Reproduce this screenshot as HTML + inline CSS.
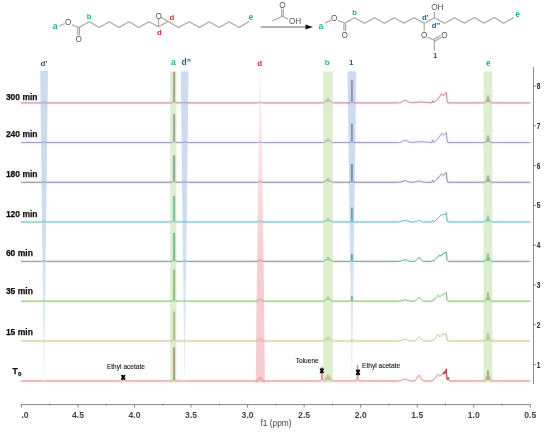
<!DOCTYPE html>
<html><head><meta charset="utf-8"><style>
html,body{margin:0;padding:0;background:#fff;}
body{width:550px;height:432px;overflow:hidden;}
svg{display:block;font-family:"Liberation Sans",sans-serif;will-change:transform;}
</style></head><body>
<svg width="550" height="432" viewBox="0 0 550 432">

<defs><filter id="fbl" x="-2%" y="-10%" width="104%" height="120%"><feGaussianBlur in="SourceGraphic" stdDeviation="0.8" result="b"/><feComponentTransfer in="b" result="b2"><feFuncA type="linear" slope="0.5"/></feComponentTransfer><feMerge><feMergeNode in="b2"/><feMergeNode in="SourceGraphic"/></feMerge></filter></defs>
<g filter="url(#fbl)" fill="none" stroke-width="0.9" stroke-linejoin="round">
<path d="M21.00 381.00 L22.00 381.00 L23.00 381.00 L24.00 381.00 L25.00 381.00 L26.00 381.00 L27.00 381.00 L28.00 381.00 L29.00 381.00 L30.00 381.00 L31.00 381.00 L32.00 381.00 L33.00 381.00 L34.00 381.00 L35.00 381.00 L36.00 381.00 L37.00 381.00 L38.00 381.00 L39.00 381.00 L40.00 381.00 L41.00 381.00 L41.33 381.00 L41.67 381.00 L42.00 381.00 L42.33 381.00 L42.67 381.00 L43.00 381.00 L43.33 381.00 L43.67 381.00 L44.00 381.00 L44.33 381.00 L44.67 381.00 L45.00 381.00 L45.33 381.00 L45.67 381.00 L46.00 381.00 L46.33 381.00 L46.67 381.00 L47.00 381.00 L48.00 381.00 L49.00 381.00 L50.00 381.00 L51.00 381.00 L52.00 381.00 L53.00 381.00 L54.00 381.00 L55.00 381.00 L56.00 381.00 L57.00 381.00 L58.00 381.00 L59.00 381.00 L60.00 381.00 L61.00 381.00 L62.00 381.00 L63.00 381.00 L64.00 381.00 L65.00 381.00 L66.00 381.00 L67.00 381.00 L68.00 381.00 L69.00 381.00 L70.00 381.00 L71.00 381.00 L72.00 381.00 L73.00 381.00 L74.00 381.00 L75.00 381.00 L76.00 381.00 L77.00 381.00 L78.00 381.00 L79.00 381.00 L80.00 381.00 L81.00 381.00 L82.00 381.00 L83.00 381.00 L84.00 381.00 L85.00 381.00 L86.00 381.00 L87.00 381.00 L88.00 381.00 L89.00 381.00 L90.00 381.00 L91.00 381.00 L92.00 381.00 L93.00 381.00 L94.00 381.00 L95.00 381.00 L96.00 381.00 L97.00 381.00 L98.00 381.00 L99.00 381.00 L100.00 381.00 L101.00 381.00 L102.00 381.00 L103.00 381.00 L104.00 381.00 L105.00 381.00 L106.00 381.00 L107.00 381.00 L108.00 381.00 L109.00 381.00 L110.00 381.00 L111.00 381.00 L112.00 381.00 L113.00 381.00 L114.00 380.99 L115.00 380.99 L116.00 380.99 L117.00 380.98 L118.00 380.98 L119.00 380.96 L119.10 380.95 L119.20 380.95 L119.30 380.94 L119.40 380.94 L119.50 380.93 L119.60 380.93 L119.70 380.92 L119.80 380.91 L119.90 380.90 L120.00 380.89 L120.10 380.88 L120.20 380.86 L120.30 380.84 L120.40 380.81 L120.50 380.78 L120.60 380.74 L120.70 380.69 L120.80 380.62 L120.90 380.52 L121.00 380.40 L121.10 380.23 L121.20 380.02 L121.30 379.78 L121.40 379.56 L121.50 379.47 L121.60 379.56 L121.70 379.77 L121.80 380.01 L121.90 380.21 L122.00 380.38 L122.10 380.50 L122.20 380.58 L122.30 380.65 L122.40 380.69 L122.50 380.73 L122.60 380.75 L122.70 380.76 L122.80 380.77 L122.90 380.77 L123.00 380.76 L123.10 380.75 L123.20 380.72 L123.30 380.68 L123.40 380.63 L123.50 380.55 L123.60 380.45 L123.70 380.31 L123.80 380.16 L123.90 380.02 L124.00 379.96 L124.10 380.02 L124.20 380.17 L124.30 380.33 L124.40 380.47 L124.50 380.58 L124.60 380.67 L124.70 380.73 L124.80 380.78 L124.90 380.81 L125.00 380.84 L125.10 380.86 L125.20 380.88 L125.30 380.90 L125.40 380.91 L125.50 380.92 L125.60 380.93 L125.70 380.93 L125.80 380.94 L125.90 380.95 L126.00 380.95 L126.10 380.95 L126.20 380.96 L126.30 380.96 L126.40 380.96 L127.00 380.97 L128.00 380.98 L129.00 380.99 L130.00 380.99 L131.00 380.99 L132.00 381.00 L133.00 381.00 L134.00 381.00 L135.00 381.00 L136.00 381.00 L137.00 381.00 L138.00 381.00 L139.00 381.00 L140.00 381.00 L141.00 381.00 L142.00 381.00 L143.00 381.00 L144.00 381.00 L145.00 381.00 L146.00 381.00 L147.00 381.00 L148.00 381.00 L149.00 381.00 L150.00 381.00 L151.00 381.00 L152.00 381.00 L153.00 381.00 L154.00 381.00 L155.00 381.00 L156.00 381.00 L157.00 381.00 L158.00 381.00 L159.00 381.00 L160.00 381.00 L161.00 381.00 L162.00 381.00 L163.00 381.00 L164.00 380.99 L165.00 380.99 L166.00 380.99 L167.00 380.99 L168.00 380.99 L169.00 380.98 L170.00 380.97 L171.00 380.95 L172.00 380.89 L172.60 380.79 L172.65 380.77 L172.70 380.75 L172.75 380.74 L172.80 380.72 L172.85 380.69 L172.90 380.67 L172.95 380.64 L173.00 380.60 L173.05 380.57 L173.10 380.52 L173.15 380.47 L173.20 380.41 L173.25 380.34 L173.30 380.26 L173.35 380.16 L173.40 380.04 L173.45 379.89 L173.50 379.71 L173.55 379.47 L173.60 379.17 L173.65 378.77 L173.70 378.23 L173.75 377.47 L173.80 376.37 L173.85 374.71 L173.90 372.11 L173.95 367.89 L174.00 361.17 L174.05 352.37 L174.10 347.40 L174.15 352.37 L174.20 361.17 L174.25 367.89 L174.30 372.11 L174.35 374.71 L174.40 376.37 L174.45 377.47 L174.50 378.23 L174.55 378.77 L174.60 379.17 L174.65 379.47 L174.70 379.71 L174.75 379.89 L174.80 380.04 L174.85 380.16 L174.90 380.26 L174.95 380.34 L175.00 380.41 L175.05 380.47 L175.10 380.52 L175.15 380.57 L175.20 380.60 L175.25 380.64 L175.30 380.67 L175.35 380.69 L175.40 380.72 L175.45 380.74 L175.50 380.75 L175.55 380.77 L176.00 380.87 L177.00 380.94 L178.00 380.97 L179.00 380.98 L180.00 380.99 L181.00 380.99 L181.40 380.99 L181.80 380.99 L182.00 380.99 L182.20 380.99 L182.60 380.99 L183.00 380.99 L183.40 380.99 L183.80 380.99 L184.00 380.99 L184.20 381.00 L184.60 381.00 L185.00 381.00 L185.40 381.00 L185.80 381.00 L186.00 381.00 L186.20 381.00 L186.60 381.00 L187.00 381.00 L187.40 381.00 L187.80 381.00 L188.00 381.00 L189.00 381.00 L190.00 381.00 L191.00 381.00 L192.00 381.00 L193.00 381.00 L194.00 381.00 L195.00 381.00 L196.00 381.00 L197.00 381.00 L198.00 381.00 L199.00 381.00 L200.00 381.00 L201.00 381.00 L202.00 381.00 L203.00 381.00 L204.00 381.00 L205.00 381.00 L206.00 381.00 L207.00 381.00 L208.00 381.00 L209.00 381.00 L210.00 381.00 L211.00 381.00 L212.00 381.00 L213.00 381.00 L214.00 381.00 L215.00 381.00 L216.00 381.00 L217.00 381.00 L218.00 381.00 L219.00 381.00 L220.00 381.00 L221.00 381.00 L222.00 381.00 L223.00 381.00 L224.00 381.00 L225.00 381.00 L226.00 381.00 L227.00 381.00 L228.00 381.00 L229.00 381.00 L230.00 381.00 L231.00 381.00 L232.00 381.00 L233.00 381.00 L234.00 381.00 L235.00 381.00 L236.00 381.00 L237.00 381.00 L238.00 381.00 L239.00 381.00 L240.00 381.00 L241.00 381.00 L242.00 381.00 L243.00 381.00 L244.00 381.00 L245.00 381.00 L246.00 381.00 L247.00 381.00 L248.00 381.00 L249.00 381.00 L250.00 381.00 L251.00 381.00 L252.00 381.00 L253.00 381.00 L254.00 381.00 L255.00 381.00 L256.00 381.00 L257.00 380.98 L257.20 380.96 L257.53 380.90 L257.87 380.77 L258.00 380.70 L258.20 380.54 L258.53 380.16 L258.87 379.60 L259.00 379.34 L259.20 378.94 L259.53 378.28 L259.87 377.78 L260.00 377.67 L260.20 377.60 L260.53 377.78 L260.87 378.28 L261.00 378.53 L261.20 378.94 L261.53 379.60 L261.87 380.16 L262.00 380.33 L262.20 380.54 L262.53 380.77 L262.87 380.90 L263.00 380.93 L263.20 380.96 L264.00 381.00 L265.00 381.00 L266.00 381.00 L267.00 381.00 L268.00 381.00 L269.00 381.00 L270.00 381.00 L271.00 381.00 L272.00 381.00 L273.00 381.00 L274.00 381.00 L275.00 381.00 L276.00 381.00 L277.00 381.00 L278.00 381.00 L279.00 381.00 L280.00 381.00 L281.00 381.00 L282.00 381.00 L283.00 381.00 L284.00 381.00 L285.00 381.00 L286.00 381.00 L287.00 381.00 L288.00 381.00 L289.00 381.00 L290.00 381.00 L291.00 381.00 L292.00 381.00 L293.00 381.00 L294.00 381.00 L295.00 381.00 L296.00 381.00 L297.00 381.00 L298.00 381.00 L299.00 381.00 L300.00 381.00 L301.00 381.00 L302.00 381.00 L303.00 381.00 L304.00 381.00 L305.00 381.00 L306.00 381.00 L307.00 381.00 L308.00 381.00 L309.00 381.00 L310.00 381.00 L311.00 381.00 L312.00 380.99 L313.00 380.99 L314.00 380.99 L315.00 380.99 L316.00 380.99 L317.00 380.98 L318.00 380.97 L319.00 380.96 L320.00 380.91 L320.40 380.85 L320.45 380.84 L320.50 380.83 L320.55 380.82 L320.60 380.81 L320.65 380.79 L320.70 380.77 L320.75 380.76 L320.80 380.73 L320.85 380.71 L320.90 380.68 L320.95 380.65 L321.00 380.61 L321.05 380.57 L321.10 380.51 L321.15 380.45 L321.20 380.37 L321.25 380.28 L321.30 380.16 L321.35 380.02 L321.40 379.83 L321.45 379.59 L321.50 379.26 L321.55 378.81 L321.60 378.18 L321.65 377.28 L321.70 375.94 L321.75 373.98 L321.80 371.29 L321.85 368.38 L321.90 366.98 L321.95 368.38 L322.00 371.29 L322.05 373.98 L322.10 375.94 L322.15 377.27 L322.20 378.17 L322.25 378.80 L322.30 379.25 L322.35 379.57 L322.40 379.81 L322.45 380.00 L322.50 380.14 L322.55 380.26 L322.60 380.35 L322.65 380.42 L322.70 380.48 L322.75 380.53 L322.80 380.58 L322.85 380.61 L322.87 380.62 L322.90 380.64 L322.95 380.67 L323.00 380.69 L323.05 380.71 L323.10 380.72 L323.15 380.74 L323.20 380.75 L323.25 380.76 L323.30 380.77 L323.35 380.77 L323.53 380.79 L324.00 380.78 L324.20 380.76 L324.60 380.69 L324.65 380.68 L324.70 380.67 L324.75 380.66 L324.80 380.65 L324.85 380.63 L324.87 380.63 L324.90 380.62 L324.95 380.60 L325.00 380.59 L325.05 380.57 L325.10 380.55 L325.15 380.53 L325.20 380.50 L325.25 380.48 L325.30 380.45 L325.35 380.42 L325.40 380.39 L325.45 380.35 L325.50 380.30 L325.53 380.27 L325.55 380.24 L325.60 380.18 L325.65 380.10 L325.70 380.00 L325.75 379.87 L325.80 379.70 L325.85 379.46 L325.90 379.15 L325.95 378.73 L326.00 378.23 L326.05 377.75 L326.10 377.53 L326.15 377.71 L326.20 378.15 L326.25 378.62 L326.30 379.00 L326.35 379.28 L326.40 379.47 L326.45 379.61 L326.50 379.70 L326.55 379.76 L326.60 379.80 L326.65 379.83 L326.70 379.84 L326.75 379.85 L326.80 379.84 L326.85 379.83 L326.87 379.83 L326.90 379.82 L326.95 379.79 L327.00 379.76 L327.05 379.73 L327.10 379.69 L327.15 379.63 L327.20 379.57 L327.25 379.49 L327.30 379.39 L327.35 379.26 L327.40 379.10 L327.45 378.88 L327.50 378.58 L327.53 378.35 L327.55 378.17 L327.60 377.61 L327.65 376.86 L327.70 375.95 L327.75 375.09 L327.80 374.71 L327.85 375.08 L327.90 375.92 L327.95 376.82 L328.00 377.55 L328.05 378.10 L328.10 378.49 L328.15 378.77 L328.20 378.97 L328.25 379.12 L328.30 379.23 L328.35 379.31 L328.40 379.36 L328.45 379.40 L328.50 379.43 L328.55 379.44 L328.60 379.43 L328.65 379.41 L328.70 379.38 L328.75 379.32 L328.80 379.23 L328.85 379.11 L328.87 379.04 L328.90 378.93 L328.95 378.67 L329.00 378.31 L329.05 377.81 L329.10 377.20 L329.15 376.62 L329.20 376.38 L329.25 376.65 L329.30 377.26 L329.35 377.90 L329.40 378.43 L329.45 378.82 L329.50 379.11 L329.53 379.24 L329.55 379.32 L329.60 379.48 L329.65 379.60 L329.70 379.69 L329.75 379.76 L329.80 379.82 L329.85 379.86 L329.90 379.89 L329.95 379.92 L330.00 379.93 L330.05 379.94 L330.10 379.93 L330.15 379.91 L330.20 379.87 L330.25 379.81 L330.30 379.71 L330.35 379.57 L330.40 379.36 L330.45 379.06 L330.50 378.70 L330.55 378.36 L330.60 378.22 L330.65 378.40 L330.70 378.78 L330.75 379.18 L330.80 379.51 L330.85 379.76 L330.87 379.85 L330.90 379.95 L330.95 380.09 L331.00 380.19 L331.05 380.28 L331.10 380.34 L331.15 380.40 L331.20 380.44 L331.25 380.48 L331.30 380.52 L331.35 380.55 L331.40 380.57 L331.45 380.60 L331.50 380.62 L331.53 380.63 L331.55 380.64 L331.60 380.66 L331.65 380.67 L331.70 380.69 L331.75 380.71 L331.80 380.72 L331.85 380.73 L331.90 380.75 L331.95 380.76 L332.00 380.77 L332.05 380.78 L332.20 380.81 L332.87 380.90 L333.00 380.91 L333.53 380.95 L334.00 380.97 L335.00 380.98 L336.00 380.99 L337.00 380.99 L338.00 380.99 L339.00 380.99 L340.00 380.99 L341.00 380.99 L342.00 381.00 L343.00 381.00 L344.00 381.00 L345.00 381.00 L346.00 381.00 L347.00 380.99 L348.00 380.99 L349.00 380.99 L350.00 380.99 L351.00 380.99 L352.00 380.99 L353.00 380.98 L354.00 380.97 L355.00 380.95 L356.00 380.86 L356.10 380.84 L356.15 380.83 L356.20 380.82 L356.25 380.80 L356.30 380.79 L356.35 380.77 L356.40 380.75 L356.45 380.73 L356.50 380.71 L356.55 380.68 L356.60 380.65 L356.65 380.61 L356.70 380.57 L356.75 380.52 L356.80 380.46 L356.85 380.38 L356.90 380.30 L356.95 380.19 L357.00 380.06 L357.05 379.89 L357.10 379.68 L357.15 379.40 L357.20 379.03 L357.25 378.52 L357.30 377.80 L357.35 376.76 L357.40 375.24 L357.45 373.00 L357.50 369.92 L357.55 366.60 L357.60 365.00 L357.65 366.60 L357.70 369.92 L357.75 373.00 L357.80 375.24 L357.85 376.76 L357.90 377.80 L357.95 378.52 L358.00 379.03 L358.05 379.40 L358.10 379.68 L358.15 379.89 L358.20 380.06 L358.25 380.19 L358.30 380.30 L358.35 380.38 L358.40 380.46 L358.45 380.52 L358.50 380.57 L358.55 380.61 L358.60 380.65 L358.65 380.68 L358.70 380.71 L358.75 380.73 L358.80 380.75 L358.85 380.77 L358.90 380.79 L358.95 380.80 L359.00 380.82 L359.05 380.83 L360.00 380.94 L361.00 380.97 L362.00 380.98 L363.00 380.99 L364.00 380.99 L365.00 380.99 L366.00 380.99 L367.00 381.00 L368.00 381.00 L369.00 381.00 L370.00 381.00 L371.00 381.00 L372.00 381.00 L373.00 381.00 L374.00 381.00 L375.00 381.00 L376.00 381.00 L377.00 381.00 L378.00 381.00 L379.00 381.00 L380.00 381.00 L381.00 381.00 L382.00 381.00 L383.00 381.00 L384.00 381.00 L385.00 381.00 L386.00 381.00 L387.00 381.00 L388.00 381.00 L389.00 381.00 L390.00 381.00 L391.00 381.00 L392.00 381.00 L393.00 381.00 L394.00 381.00 L395.00 381.00 L396.00 381.00 L397.00 380.99 L397.80 380.98 L398.00 380.97 L398.60 380.95 L399.00 380.92 L399.40 380.87 L400.00 380.78 L400.20 380.74 L401.00 380.53 L401.80 380.22 L402.00 380.13 L402.60 379.85 L403.00 379.66 L403.40 379.48 L404.00 379.26 L404.20 379.20 L405.00 379.10 L405.80 379.20 L406.00 379.26 L406.60 379.48 L407.00 379.66 L407.40 379.85 L408.00 380.13 L408.20 380.22 L409.00 380.53 L409.80 380.74 L410.00 380.78 L410.60 380.87 L411.00 380.92 L411.40 380.95 L412.00 380.97 L413.00 380.98 L413.90 380.93 L414.00 380.92 L414.47 380.84 L415.00 380.64 L415.03 380.63 L415.60 380.23 L416.00 379.80 L416.17 379.57 L416.73 378.66 L417.00 378.15 L417.30 377.54 L417.87 376.43 L418.00 376.21 L418.43 375.61 L419.00 375.30 L419.57 375.61 L420.00 376.21 L420.13 376.43 L420.70 377.54 L421.00 378.15 L421.27 378.66 L421.83 379.57 L422.00 379.80 L422.40 380.23 L422.97 380.63 L423.00 380.64 L423.53 380.84 L424.00 380.92 L424.10 380.94 L425.00 380.99 L426.00 381.00 L427.00 381.00 L428.00 381.00 L429.00 381.00 L430.00 381.00 L431.00 381.00 L431.50 381.00 L432.00 380.70 L433.00 380.10 L434.00 379.50 L435.00 378.30 L436.00 377.10 L436.50 376.50 L437.00 375.65 L437.80 374.30 L438.00 374.50 L439.00 375.50 L439.70 376.20 L440.00 375.92 L441.00 374.97 L441.50 374.50 L442.00 374.00 L443.00 373.00 L443.60 374.20 L444.00 372.53 L444.20 371.70 L444.80 373.50 L445.00 372.73 L445.40 371.20 L445.80 373.00 L446.00 370.95 L446.20 368.90 L447.00 379.20 L447.80 380.00 L448.00 379.00 L448.40 377.00 L449.00 380.70 L450.00 381.00 L451.00 381.00 L452.00 381.00 L453.00 381.00 L454.00 381.00 L455.00 381.00 L456.00 381.00 L457.00 381.00 L458.00 381.00 L459.00 381.00 L460.00 381.00 L461.00 381.00 L462.00 381.00 L463.00 381.00 L464.00 381.00 L465.00 381.00 L466.00 381.00 L467.00 381.00 L468.00 381.00 L469.00 381.00 L470.00 381.00 L471.00 381.00 L472.00 381.00 L473.00 380.99 L474.00 380.99 L475.00 380.99 L476.00 380.99 L477.00 380.99 L478.00 380.99 L479.00 380.98 L480.00 380.98 L481.00 380.97 L482.00 380.96 L483.00 380.94 L484.00 380.90 L484.70 380.83 L484.77 380.82 L484.85 380.81 L484.92 380.79 L485.00 380.78 L485.07 380.76 L485.15 380.73 L485.22 380.71 L485.30 380.68 L485.37 380.64 L485.45 380.60 L485.52 380.55 L485.60 380.49 L485.67 380.42 L485.75 380.32 L485.82 380.21 L485.90 380.05 L485.97 379.86 L486.00 379.77 L486.05 379.58 L486.12 379.25 L486.20 378.76 L486.27 378.21 L486.35 377.48 L486.42 376.91 L486.50 376.62 L486.55 376.72 L486.57 376.81 L486.60 377.00 L486.65 377.40 L486.70 377.83 L486.72 378.00 L486.75 378.24 L486.80 378.59 L486.85 378.88 L486.87 378.98 L486.90 379.11 L486.95 379.30 L487.00 379.44 L487.02 379.49 L487.05 379.54 L487.10 379.61 L487.15 379.66 L487.17 379.67 L487.20 379.67 L487.25 379.66 L487.30 379.63 L487.32 379.60 L487.35 379.56 L487.40 379.46 L487.45 379.32 L487.47 379.25 L487.50 379.13 L487.55 378.87 L487.60 378.53 L487.62 378.36 L487.65 378.07 L487.70 377.44 L487.75 376.60 L487.77 376.18 L487.80 375.46 L487.85 374.02 L487.90 372.36 L487.92 371.71 L487.95 370.89 L488.00 370.28 L488.05 370.89 L488.07 371.41 L488.10 372.36 L488.15 374.02 L488.20 375.46 L488.22 375.95 L488.25 376.60 L488.30 377.44 L488.35 378.07 L488.37 378.27 L488.40 378.53 L488.45 378.87 L488.50 379.13 L488.52 379.21 L488.55 379.32 L488.60 379.46 L488.65 379.56 L488.67 379.59 L488.70 379.63 L488.75 379.66 L488.80 379.67 L488.82 379.67 L488.85 379.66 L488.90 379.61 L488.95 379.54 L488.97 379.51 L489.00 379.44 L489.05 379.30 L489.10 379.11 L489.12 379.03 L489.15 378.88 L489.20 378.59 L489.25 378.24 L489.27 378.08 L489.30 377.83 L489.35 377.40 L489.40 377.00 L489.42 376.87 L489.45 376.72 L489.50 376.62 L489.57 376.85 L489.65 377.48 L489.72 378.12 L489.80 378.76 L489.87 379.20 L489.95 379.58 L490.00 379.77 L490.02 379.83 L490.10 380.05 L490.17 380.19 L490.25 380.32 L490.32 380.41 L490.40 380.49 L490.47 380.55 L490.55 380.60 L490.62 380.64 L490.70 380.68 L490.77 380.71 L490.85 380.73 L490.92 380.75 L491.00 380.78 L491.07 380.79 L491.15 380.81 L491.22 380.82 L491.30 380.83 L492.00 380.90 L493.00 380.94 L494.00 380.96 L495.00 380.97 L496.00 380.98 L497.00 380.98 L498.00 380.99 L499.00 380.99 L500.00 380.99 L501.00 380.99 L502.00 380.99 L503.00 380.99 L504.00 381.00 L505.00 381.00 L506.00 381.00 L507.00 381.00 L508.00 381.00 L509.00 381.00 L510.00 381.00 L511.00 381.00 L512.00 381.00 L513.00 381.00 L514.00 381.00 L515.00 381.00 L516.00 381.00 L517.00 381.00 L518.00 381.00 L519.00 381.00 L520.00 381.00 L521.00 381.00 L522.00 381.00 L523.00 381.00 L524.00 381.00 L525.00 381.00 L526.00 381.00 L527.00 381.00 L528.00 381.00 L529.00 381.00 L530.00 381.00 L530.50 381.00" stroke="#d88282"/>
<path d="M21.00 341.00 L22.00 341.00 L23.00 341.00 L24.00 341.00 L25.00 341.00 L26.00 341.00 L27.00 341.00 L28.00 341.00 L29.00 341.00 L30.00 341.00 L31.00 341.00 L32.00 341.00 L33.00 341.00 L34.00 341.00 L35.00 341.00 L36.00 341.00 L37.00 341.00 L38.00 341.00 L39.00 341.00 L40.00 341.00 L41.00 341.00 L41.33 340.99 L41.67 340.99 L42.00 340.97 L42.33 340.95 L42.67 340.92 L43.00 340.88 L43.33 340.84 L43.67 340.81 L44.00 340.80 L44.33 340.81 L44.67 340.84 L45.00 340.88 L45.33 340.92 L45.67 340.95 L46.00 340.97 L46.33 340.99 L46.67 340.99 L47.00 341.00 L48.00 341.00 L49.00 341.00 L50.00 341.00 L51.00 341.00 L52.00 341.00 L53.00 341.00 L54.00 341.00 L55.00 341.00 L56.00 341.00 L57.00 341.00 L58.00 341.00 L59.00 341.00 L60.00 341.00 L61.00 341.00 L62.00 341.00 L63.00 341.00 L64.00 341.00 L65.00 341.00 L66.00 341.00 L67.00 341.00 L68.00 341.00 L69.00 341.00 L70.00 341.00 L71.00 341.00 L72.00 341.00 L73.00 341.00 L74.00 341.00 L75.00 341.00 L76.00 341.00 L77.00 341.00 L78.00 341.00 L79.00 341.00 L80.00 341.00 L81.00 341.00 L82.00 341.00 L83.00 341.00 L84.00 341.00 L85.00 341.00 L86.00 341.00 L87.00 341.00 L88.00 341.00 L89.00 341.00 L90.00 341.00 L91.00 341.00 L92.00 341.00 L93.00 341.00 L94.00 341.00 L95.00 341.00 L96.00 341.00 L97.00 341.00 L98.00 341.00 L99.00 341.00 L100.00 341.00 L101.00 341.00 L102.00 341.00 L103.00 341.00 L104.00 341.00 L105.00 341.00 L106.00 341.00 L107.00 341.00 L108.00 341.00 L109.00 341.00 L110.00 341.00 L111.00 341.00 L112.00 341.00 L113.00 341.00 L114.00 341.00 L115.00 341.00 L116.00 341.00 L117.00 341.00 L118.00 341.00 L119.00 341.00 L120.00 341.00 L121.00 341.00 L122.00 341.00 L123.00 341.00 L124.00 341.00 L125.00 341.00 L126.00 341.00 L127.00 341.00 L128.00 341.00 L129.00 341.00 L130.00 341.00 L131.00 341.00 L132.00 341.00 L133.00 341.00 L134.00 341.00 L135.00 341.00 L136.00 341.00 L137.00 341.00 L138.00 341.00 L139.00 341.00 L140.00 341.00 L141.00 341.00 L142.00 341.00 L143.00 341.00 L144.00 341.00 L145.00 341.00 L146.00 341.00 L147.00 341.00 L148.00 341.00 L149.00 341.00 L150.00 341.00 L151.00 341.00 L152.00 341.00 L153.00 341.00 L154.00 341.00 L155.00 341.00 L156.00 341.00 L157.00 341.00 L158.00 341.00 L159.00 341.00 L160.00 341.00 L161.00 341.00 L162.00 341.00 L163.00 341.00 L164.00 341.00 L165.00 340.99 L166.00 340.99 L167.00 340.99 L168.00 340.99 L169.00 340.98 L170.00 340.97 L171.00 340.96 L172.00 340.90 L172.60 340.81 L172.65 340.80 L172.70 340.78 L172.75 340.77 L172.80 340.75 L172.85 340.73 L172.90 340.71 L172.95 340.68 L173.00 340.65 L173.05 340.62 L173.10 340.58 L173.15 340.54 L173.20 340.48 L173.25 340.42 L173.30 340.35 L173.35 340.26 L173.40 340.16 L173.45 340.03 L173.50 339.87 L173.55 339.66 L173.60 339.39 L173.65 339.04 L173.70 338.56 L173.75 337.90 L173.80 336.93 L173.85 335.48 L173.90 333.19 L173.95 329.49 L174.00 323.59 L174.05 315.86 L174.10 311.50 L174.15 315.86 L174.20 323.59 L174.25 329.49 L174.30 333.19 L174.35 335.48 L174.40 336.93 L174.45 337.90 L174.50 338.56 L174.55 339.04 L174.60 339.39 L174.65 339.66 L174.70 339.87 L174.75 340.03 L174.80 340.16 L174.85 340.26 L174.90 340.35 L174.95 340.42 L175.00 340.48 L175.05 340.54 L175.10 340.58 L175.15 340.62 L175.20 340.65 L175.25 340.68 L175.30 340.71 L175.35 340.73 L175.40 340.75 L175.45 340.77 L175.50 340.78 L175.55 340.80 L176.00 340.88 L177.00 340.95 L178.00 340.97 L179.00 340.98 L180.00 340.99 L181.00 340.99 L181.40 340.99 L181.80 340.98 L182.00 340.98 L182.20 340.97 L182.60 340.95 L183.00 340.93 L183.40 340.90 L183.80 340.87 L184.00 340.85 L184.20 340.84 L184.60 340.84 L185.00 340.85 L185.40 340.87 L185.80 340.90 L186.00 340.92 L186.20 340.93 L186.60 340.96 L187.00 340.98 L187.40 340.99 L187.80 340.99 L188.00 340.99 L189.00 341.00 L190.00 341.00 L191.00 341.00 L192.00 341.00 L193.00 341.00 L194.00 341.00 L195.00 341.00 L196.00 341.00 L197.00 341.00 L198.00 341.00 L199.00 341.00 L200.00 341.00 L201.00 341.00 L202.00 341.00 L203.00 341.00 L204.00 341.00 L205.00 341.00 L206.00 341.00 L207.00 341.00 L208.00 341.00 L209.00 341.00 L210.00 341.00 L211.00 341.00 L212.00 341.00 L213.00 341.00 L214.00 341.00 L215.00 341.00 L216.00 341.00 L217.00 341.00 L218.00 341.00 L219.00 341.00 L220.00 341.00 L221.00 341.00 L222.00 341.00 L223.00 341.00 L224.00 341.00 L225.00 341.00 L226.00 341.00 L227.00 341.00 L228.00 341.00 L229.00 341.00 L230.00 341.00 L231.00 341.00 L232.00 341.00 L233.00 341.00 L234.00 341.00 L235.00 341.00 L236.00 341.00 L237.00 341.00 L238.00 341.00 L239.00 341.00 L240.00 341.00 L241.00 341.00 L242.00 341.00 L243.00 341.00 L244.00 341.00 L245.00 341.00 L246.00 341.00 L247.00 341.00 L248.00 341.00 L249.00 341.00 L250.00 341.00 L251.00 341.00 L252.00 341.00 L253.00 341.00 L254.00 341.00 L255.00 341.00 L256.00 341.00 L257.00 340.99 L257.20 340.98 L257.53 340.94 L257.87 340.85 L258.00 340.80 L258.20 340.70 L258.53 340.45 L258.87 340.09 L259.00 339.93 L259.20 339.67 L259.53 339.24 L259.87 338.92 L260.00 338.84 L260.20 338.80 L260.53 338.92 L260.87 339.24 L261.00 339.40 L261.20 339.67 L261.53 340.09 L261.87 340.45 L262.00 340.56 L262.20 340.70 L262.53 340.85 L262.87 340.94 L263.00 340.96 L263.20 340.98 L264.00 341.00 L265.00 341.00 L266.00 341.00 L267.00 341.00 L268.00 341.00 L269.00 341.00 L270.00 341.00 L271.00 341.00 L272.00 341.00 L273.00 341.00 L274.00 341.00 L275.00 341.00 L276.00 341.00 L277.00 341.00 L278.00 341.00 L279.00 341.00 L280.00 341.00 L281.00 341.00 L282.00 341.00 L283.00 341.00 L284.00 341.00 L285.00 341.00 L286.00 341.00 L287.00 341.00 L288.00 341.00 L289.00 341.00 L290.00 341.00 L291.00 341.00 L292.00 341.00 L293.00 341.00 L294.00 341.00 L295.00 341.00 L296.00 341.00 L297.00 341.00 L298.00 341.00 L299.00 341.00 L300.00 341.00 L301.00 341.00 L302.00 341.00 L303.00 341.00 L304.00 341.00 L305.00 341.00 L306.00 341.00 L307.00 341.00 L308.00 341.00 L309.00 341.00 L310.00 341.00 L311.00 341.00 L312.00 341.00 L313.00 341.00 L314.00 341.00 L315.00 341.00 L316.00 341.00 L317.00 340.99 L318.00 340.99 L319.00 340.99 L320.00 340.99 L321.00 340.98 L322.00 340.97 L322.67 340.94 L323.00 340.91 L323.33 340.88 L324.00 340.77 L324.10 340.74 L324.17 340.73 L324.25 340.70 L324.32 340.68 L324.40 340.66 L324.47 340.64 L324.55 340.61 L324.62 340.58 L324.67 340.56 L324.70 340.55 L324.77 340.52 L324.85 340.48 L324.92 340.44 L325.00 340.39 L325.07 340.34 L325.15 340.27 L325.22 340.20 L325.30 340.11 L325.33 340.07 L325.37 340.01 L325.45 339.87 L325.52 339.72 L325.60 339.49 L325.67 339.24 L325.75 338.92 L325.82 338.67 L325.90 338.52 L325.97 338.58 L326.00 338.65 L326.05 338.79 L326.12 339.01 L326.20 339.22 L326.27 339.37 L326.35 339.48 L326.42 339.54 L326.50 339.58 L326.57 339.60 L326.65 339.60 L326.67 339.60 L326.72 339.60 L326.80 339.58 L326.87 339.56 L326.95 339.52 L327.00 339.50 L327.02 339.49 L327.10 339.43 L327.17 339.37 L327.25 339.29 L327.32 339.21 L327.33 339.19 L327.40 339.08 L327.47 338.94 L327.55 338.73 L327.62 338.48 L327.70 338.11 L327.77 337.70 L327.85 337.16 L327.92 336.74 L328.00 336.53 L328.07 336.69 L328.15 337.16 L328.22 337.63 L328.30 338.11 L328.37 338.44 L328.40 338.56 L328.45 338.73 L328.47 338.79 L328.52 338.92 L328.55 338.99 L328.60 339.09 L328.62 339.12 L328.67 339.20 L328.70 339.24 L328.75 339.30 L328.77 339.33 L328.82 339.38 L328.85 339.40 L328.90 339.44 L328.92 339.46 L328.97 339.49 L329.00 339.51 L329.05 339.54 L329.07 339.55 L329.12 339.58 L329.15 339.59 L329.20 339.61 L329.22 339.62 L329.27 339.63 L329.30 339.64 L329.33 339.65 L329.35 339.65 L329.37 339.65 L329.42 339.66 L329.45 339.66 L329.50 339.66 L329.52 339.65 L329.57 339.64 L329.60 339.63 L329.65 339.61 L329.67 339.59 L329.72 339.55 L329.75 339.52 L329.80 339.46 L329.82 339.43 L329.90 339.27 L329.97 339.09 L330.00 338.99 L330.05 338.84 L330.12 338.64 L330.20 338.57 L330.27 338.68 L330.35 338.97 L330.42 339.25 L330.50 339.53 L330.57 339.73 L330.65 339.91 L330.67 339.95 L330.72 340.04 L330.80 340.15 L330.87 340.23 L330.95 340.31 L331.00 340.35 L331.02 340.36 L331.10 340.42 L331.17 340.46 L331.25 340.50 L331.32 340.54 L331.33 340.54 L331.40 340.57 L331.47 340.60 L331.55 340.63 L331.62 340.66 L331.70 340.68 L331.77 340.70 L331.85 340.73 L331.92 340.74 L332.00 340.76 L332.67 340.88 L333.00 340.91 L333.33 340.94 L334.00 340.97 L335.00 340.98 L336.00 340.99 L337.00 340.99 L338.00 340.99 L339.00 340.99 L340.00 341.00 L341.00 341.00 L342.00 341.00 L343.00 341.00 L344.00 341.00 L345.00 341.00 L346.00 341.00 L347.00 341.00 L348.00 341.00 L349.00 341.00 L350.00 340.99 L350.40 340.99 L350.45 340.99 L350.50 340.98 L350.55 340.98 L350.60 340.98 L350.65 340.98 L350.70 340.98 L350.75 340.98 L350.80 340.98 L350.85 340.97 L350.90 340.97 L350.95 340.97 L351.00 340.96 L351.05 340.96 L351.10 340.95 L351.15 340.95 L351.20 340.94 L351.25 340.93 L351.30 340.92 L351.35 340.91 L351.40 340.89 L351.45 340.87 L351.50 340.83 L351.55 340.79 L351.60 340.72 L351.65 340.62 L351.70 340.47 L351.75 340.22 L351.80 339.82 L351.85 339.29 L351.90 339.00 L351.95 339.29 L352.00 339.82 L352.05 340.22 L352.10 340.47 L352.15 340.62 L352.20 340.72 L352.25 340.79 L352.30 340.83 L352.35 340.87 L352.40 340.89 L352.45 340.91 L352.50 340.92 L352.55 340.93 L352.60 340.94 L352.65 340.95 L352.70 340.95 L352.75 340.96 L352.80 340.96 L352.85 340.97 L352.90 340.97 L352.95 340.97 L353.00 340.98 L353.05 340.98 L353.10 340.98 L353.15 340.98 L353.20 340.98 L353.25 340.98 L353.30 340.98 L353.35 340.99 L354.00 340.99 L355.00 341.00 L356.00 341.00 L357.00 341.00 L358.00 341.00 L359.00 341.00 L360.00 341.00 L361.00 341.00 L362.00 341.00 L363.00 341.00 L364.00 341.00 L365.00 341.00 L366.00 341.00 L367.00 341.00 L368.00 341.00 L369.00 341.00 L370.00 341.00 L371.00 341.00 L372.00 341.00 L373.00 341.00 L374.00 341.00 L375.00 341.00 L376.00 341.00 L377.00 341.00 L378.00 341.00 L379.00 341.00 L380.00 341.00 L381.00 341.00 L382.00 341.00 L383.00 341.00 L384.00 341.00 L385.00 341.00 L386.00 341.00 L387.00 341.00 L388.00 341.00 L389.00 341.00 L390.00 341.00 L391.00 341.00 L392.00 341.00 L393.00 341.00 L394.00 341.00 L395.00 341.00 L396.00 341.00 L397.00 340.99 L397.80 340.98 L398.00 340.97 L398.60 340.95 L399.00 340.92 L399.40 340.88 L400.00 340.79 L400.20 340.76 L401.00 340.55 L401.80 340.26 L402.00 340.18 L402.60 339.91 L403.00 339.73 L403.40 339.56 L404.00 339.35 L404.20 339.30 L405.00 339.20 L405.80 339.30 L406.00 339.35 L406.60 339.56 L407.00 339.73 L407.40 339.91 L408.00 340.18 L408.20 340.26 L409.00 340.55 L409.80 340.76 L410.00 340.79 L410.60 340.88 L411.00 340.92 L411.40 340.95 L412.00 340.97 L413.00 340.98 L413.90 340.95 L414.00 340.94 L414.47 340.88 L415.00 340.74 L415.03 340.73 L415.60 340.44 L416.00 340.14 L416.17 339.97 L416.73 339.32 L417.00 338.95 L417.30 338.51 L417.87 337.71 L418.00 337.55 L418.43 337.12 L419.00 336.90 L419.57 337.12 L420.00 337.55 L420.13 337.71 L420.70 338.51 L421.00 338.95 L421.27 339.32 L421.83 339.97 L422.00 340.14 L422.40 340.44 L422.97 340.73 L423.00 340.74 L423.53 340.88 L424.00 340.95 L424.10 340.95 L425.00 340.99 L426.00 341.00 L427.00 341.00 L428.00 341.00 L429.00 341.00 L430.00 341.00 L431.00 341.00 L431.50 341.00 L432.00 340.76 L433.00 340.28 L434.00 339.80 L435.00 338.48 L436.00 337.16 L436.50 336.50 L437.00 335.83 L438.00 334.50 L439.00 335.83 L439.80 336.90 L440.00 336.70 L441.00 335.70 L441.50 335.20 L442.00 334.87 L443.00 334.20 L443.30 334.00 L444.00 334.21 L445.00 334.50 L446.00 333.73 L446.30 333.50 L447.00 339.19 L447.10 340.00 L448.00 341.00 L449.00 341.00 L450.00 341.00 L451.00 341.00 L452.00 341.00 L453.00 341.00 L454.00 341.00 L455.00 341.00 L456.00 341.00 L457.00 341.00 L458.00 341.00 L459.00 341.00 L460.00 341.00 L461.00 341.00 L462.00 341.00 L463.00 341.00 L464.00 341.00 L465.00 341.00 L466.00 341.00 L467.00 341.00 L468.00 341.00 L469.00 341.00 L470.00 341.00 L471.00 341.00 L472.00 341.00 L473.00 341.00 L474.00 341.00 L475.00 340.99 L476.00 340.99 L477.00 340.99 L478.00 340.99 L479.00 340.99 L480.00 340.99 L481.00 340.98 L482.00 340.97 L483.00 340.96 L484.00 340.93 L484.70 340.88 L484.77 340.87 L484.85 340.86 L484.92 340.85 L485.00 340.84 L485.07 340.83 L485.15 340.81 L485.22 340.79 L485.30 340.77 L485.37 340.74 L485.45 340.71 L485.52 340.68 L485.60 340.63 L485.67 340.58 L485.75 340.51 L485.82 340.43 L485.90 340.31 L485.97 340.18 L486.00 340.11 L486.05 339.98 L486.12 339.74 L486.20 339.38 L486.27 338.99 L486.35 338.46 L486.42 338.05 L486.50 337.84 L486.55 337.91 L486.57 337.98 L486.60 338.12 L486.65 338.41 L486.70 338.72 L486.72 338.84 L486.75 339.01 L486.80 339.26 L486.85 339.47 L486.87 339.54 L486.90 339.64 L486.95 339.77 L487.00 339.87 L487.02 339.91 L487.05 339.95 L487.10 340.00 L487.15 340.03 L487.17 340.04 L487.20 340.04 L487.25 340.04 L487.30 340.01 L487.32 339.99 L487.35 339.96 L487.40 339.89 L487.45 339.79 L487.47 339.74 L487.50 339.65 L487.55 339.47 L487.60 339.22 L487.62 339.10 L487.65 338.89 L487.70 338.43 L487.75 337.82 L487.77 337.52 L487.80 337.01 L487.85 335.96 L487.90 334.77 L487.92 334.30 L487.95 333.71 L488.00 333.27 L488.05 333.71 L488.07 334.09 L488.10 334.77 L488.15 335.96 L488.20 337.01 L488.22 337.36 L488.25 337.82 L488.30 338.43 L488.35 338.89 L488.37 339.03 L488.40 339.22 L488.45 339.47 L488.50 339.65 L488.52 339.71 L488.55 339.79 L488.60 339.89 L488.65 339.96 L488.67 339.98 L488.70 340.01 L488.75 340.04 L488.80 340.04 L488.82 340.04 L488.85 340.03 L488.90 340.00 L488.95 339.95 L488.97 339.92 L489.00 339.87 L489.05 339.77 L489.10 339.64 L489.12 339.58 L489.15 339.47 L489.20 339.26 L489.25 339.01 L489.27 338.89 L489.30 338.72 L489.35 338.41 L489.40 338.12 L489.42 338.02 L489.45 337.91 L489.50 337.84 L489.57 338.01 L489.65 338.46 L489.72 338.92 L489.80 339.38 L489.87 339.70 L489.95 339.98 L490.00 340.11 L490.02 340.16 L490.10 340.31 L490.17 340.42 L490.25 340.51 L490.32 340.57 L490.40 340.63 L490.47 340.67 L490.55 340.71 L490.62 340.74 L490.70 340.77 L490.77 340.79 L490.85 340.81 L490.92 340.82 L491.00 340.84 L491.07 340.85 L491.15 340.86 L491.22 340.87 L491.30 340.88 L492.00 340.93 L493.00 340.96 L494.00 340.97 L495.00 340.98 L496.00 340.99 L497.00 340.99 L498.00 340.99 L499.00 340.99 L500.00 340.99 L501.00 340.99 L502.00 341.00 L503.00 341.00 L504.00 341.00 L505.00 341.00 L506.00 341.00 L507.00 341.00 L508.00 341.00 L509.00 341.00 L510.00 341.00 L511.00 341.00 L512.00 341.00 L513.00 341.00 L514.00 341.00 L515.00 341.00 L516.00 341.00 L517.00 341.00 L518.00 341.00 L519.00 341.00 L520.00 341.00 L521.00 341.00 L522.00 341.00 L523.00 341.00 L524.00 341.00 L525.00 341.00 L526.00 341.00 L527.00 341.00 L528.00 341.00 L529.00 341.00 L530.00 341.00 L530.50 341.00" stroke="#d0bf88"/>
<path d="M21.00 301.20 L22.00 301.20 L23.00 301.20 L24.00 301.20 L25.00 301.20 L26.00 301.20 L27.00 301.20 L28.00 301.20 L29.00 301.20 L30.00 301.20 L31.00 301.20 L32.00 301.20 L33.00 301.20 L34.00 301.20 L35.00 301.20 L36.00 301.20 L37.00 301.20 L38.00 301.20 L39.00 301.20 L40.00 301.20 L41.00 301.20 L41.33 301.19 L41.67 301.18 L42.00 301.16 L42.33 301.13 L42.67 301.08 L43.00 301.02 L43.33 300.96 L43.67 300.92 L44.00 300.90 L44.33 300.92 L44.67 300.96 L45.00 301.02 L45.33 301.08 L45.67 301.13 L46.00 301.16 L46.33 301.18 L46.67 301.19 L47.00 301.20 L48.00 301.20 L49.00 301.20 L50.00 301.20 L51.00 301.20 L52.00 301.20 L53.00 301.20 L54.00 301.20 L55.00 301.20 L56.00 301.20 L57.00 301.20 L58.00 301.20 L59.00 301.20 L60.00 301.20 L61.00 301.20 L62.00 301.20 L63.00 301.20 L64.00 301.20 L65.00 301.20 L66.00 301.20 L67.00 301.20 L68.00 301.20 L69.00 301.20 L70.00 301.20 L71.00 301.20 L72.00 301.20 L73.00 301.20 L74.00 301.20 L75.00 301.20 L76.00 301.20 L77.00 301.20 L78.00 301.20 L79.00 301.20 L80.00 301.20 L81.00 301.20 L82.00 301.20 L83.00 301.20 L84.00 301.20 L85.00 301.20 L86.00 301.20 L87.00 301.20 L88.00 301.20 L89.00 301.20 L90.00 301.20 L91.00 301.20 L92.00 301.20 L93.00 301.20 L94.00 301.20 L95.00 301.20 L96.00 301.20 L97.00 301.20 L98.00 301.20 L99.00 301.20 L100.00 301.20 L101.00 301.20 L102.00 301.20 L103.00 301.20 L104.00 301.20 L105.00 301.20 L106.00 301.20 L107.00 301.20 L108.00 301.20 L109.00 301.20 L110.00 301.20 L111.00 301.20 L112.00 301.20 L113.00 301.20 L114.00 301.20 L115.00 301.20 L116.00 301.20 L117.00 301.20 L118.00 301.20 L119.00 301.20 L120.00 301.20 L121.00 301.20 L122.00 301.20 L123.00 301.20 L124.00 301.20 L125.00 301.20 L126.00 301.20 L127.00 301.20 L128.00 301.20 L129.00 301.20 L130.00 301.20 L131.00 301.20 L132.00 301.20 L133.00 301.20 L134.00 301.20 L135.00 301.20 L136.00 301.20 L137.00 301.20 L138.00 301.20 L139.00 301.20 L140.00 301.20 L141.00 301.20 L142.00 301.20 L143.00 301.20 L144.00 301.20 L145.00 301.20 L146.00 301.20 L147.00 301.20 L148.00 301.20 L149.00 301.20 L150.00 301.20 L151.00 301.20 L152.00 301.20 L153.00 301.20 L154.00 301.20 L155.00 301.20 L156.00 301.20 L157.00 301.20 L158.00 301.20 L159.00 301.20 L160.00 301.20 L161.00 301.20 L162.00 301.20 L163.00 301.20 L164.00 301.20 L165.00 301.19 L166.00 301.19 L167.00 301.19 L168.00 301.19 L169.00 301.18 L170.00 301.17 L171.00 301.15 L172.00 301.10 L172.60 301.00 L172.65 300.99 L172.70 300.97 L172.75 300.95 L172.80 300.93 L172.85 300.91 L172.90 300.89 L172.95 300.86 L173.00 300.83 L173.05 300.79 L173.10 300.75 L173.15 300.71 L173.20 300.65 L173.25 300.58 L173.30 300.51 L173.35 300.41 L173.40 300.30 L173.45 300.16 L173.50 299.99 L173.55 299.77 L173.60 299.48 L173.65 299.11 L173.70 298.60 L173.75 297.89 L173.80 296.86 L173.85 295.30 L173.90 292.86 L173.95 288.91 L174.00 282.61 L174.05 274.36 L174.10 269.70 L174.15 274.36 L174.20 282.61 L174.25 288.91 L174.30 292.86 L174.35 295.30 L174.40 296.86 L174.45 297.89 L174.50 298.60 L174.55 299.11 L174.60 299.48 L174.65 299.77 L174.70 299.99 L174.75 300.16 L174.80 300.30 L174.85 300.41 L174.90 300.51 L174.95 300.58 L175.00 300.65 L175.05 300.71 L175.10 300.75 L175.15 300.79 L175.20 300.83 L175.25 300.86 L175.30 300.89 L175.35 300.91 L175.40 300.93 L175.45 300.95 L175.50 300.97 L175.55 300.99 L176.00 301.07 L177.00 301.15 L178.00 301.17 L179.00 301.18 L180.00 301.19 L181.00 301.19 L181.40 301.18 L181.80 301.18 L182.00 301.17 L182.20 301.16 L182.60 301.13 L183.00 301.10 L183.40 301.05 L183.80 301.00 L184.00 300.98 L184.20 300.97 L184.60 300.96 L185.00 300.97 L185.40 301.00 L185.80 301.05 L186.00 301.08 L186.20 301.10 L186.60 301.14 L187.00 301.16 L187.40 301.18 L187.80 301.19 L188.00 301.19 L189.00 301.20 L190.00 301.20 L191.00 301.20 L192.00 301.20 L193.00 301.20 L194.00 301.20 L195.00 301.20 L196.00 301.20 L197.00 301.20 L198.00 301.20 L199.00 301.20 L200.00 301.20 L201.00 301.20 L202.00 301.20 L203.00 301.20 L204.00 301.20 L205.00 301.20 L206.00 301.20 L207.00 301.20 L208.00 301.20 L209.00 301.20 L210.00 301.20 L211.00 301.20 L212.00 301.20 L213.00 301.20 L214.00 301.20 L215.00 301.20 L216.00 301.20 L217.00 301.20 L218.00 301.20 L219.00 301.20 L220.00 301.20 L221.00 301.20 L222.00 301.20 L223.00 301.20 L224.00 301.20 L225.00 301.20 L226.00 301.20 L227.00 301.20 L228.00 301.20 L229.00 301.20 L230.00 301.20 L231.00 301.20 L232.00 301.20 L233.00 301.20 L234.00 301.20 L235.00 301.20 L236.00 301.20 L237.00 301.20 L238.00 301.20 L239.00 301.20 L240.00 301.20 L241.00 301.20 L242.00 301.20 L243.00 301.20 L244.00 301.20 L245.00 301.20 L246.00 301.20 L247.00 301.20 L248.00 301.20 L249.00 301.20 L250.00 301.20 L251.00 301.20 L252.00 301.20 L253.00 301.20 L254.00 301.20 L255.00 301.20 L256.00 301.20 L257.00 301.19 L257.20 301.18 L257.53 301.14 L257.87 301.07 L258.00 301.02 L258.20 300.93 L258.53 300.70 L258.87 300.37 L259.00 300.23 L259.20 299.99 L259.53 299.60 L259.87 299.31 L260.00 299.24 L260.20 299.20 L260.53 299.31 L260.87 299.60 L261.00 299.75 L261.20 299.99 L261.53 300.37 L261.87 300.70 L262.00 300.80 L262.20 300.93 L262.53 301.07 L262.87 301.14 L263.00 301.16 L263.20 301.18 L264.00 301.20 L265.00 301.20 L266.00 301.20 L267.00 301.20 L268.00 301.20 L269.00 301.20 L270.00 301.20 L271.00 301.20 L272.00 301.20 L273.00 301.20 L274.00 301.20 L275.00 301.20 L276.00 301.20 L277.00 301.20 L278.00 301.20 L279.00 301.20 L280.00 301.20 L281.00 301.20 L282.00 301.20 L283.00 301.20 L284.00 301.20 L285.00 301.20 L286.00 301.20 L287.00 301.20 L288.00 301.20 L289.00 301.20 L290.00 301.20 L291.00 301.20 L292.00 301.20 L293.00 301.20 L294.00 301.20 L295.00 301.20 L296.00 301.20 L297.00 301.20 L298.00 301.20 L299.00 301.20 L300.00 301.20 L301.00 301.20 L302.00 301.20 L303.00 301.20 L304.00 301.20 L305.00 301.20 L306.00 301.20 L307.00 301.20 L308.00 301.20 L309.00 301.20 L310.00 301.20 L311.00 301.20 L312.00 301.20 L313.00 301.20 L314.00 301.20 L315.00 301.20 L316.00 301.20 L317.00 301.19 L318.00 301.19 L319.00 301.19 L320.00 301.19 L321.00 301.18 L322.00 301.17 L322.67 301.14 L323.00 301.11 L323.33 301.08 L324.00 300.97 L324.10 300.94 L324.17 300.93 L324.25 300.90 L324.32 300.88 L324.40 300.86 L324.47 300.84 L324.55 300.81 L324.62 300.78 L324.67 300.76 L324.70 300.75 L324.77 300.72 L324.85 300.67 L324.92 300.64 L325.00 300.59 L325.07 300.54 L325.15 300.47 L325.22 300.40 L325.30 300.31 L325.33 300.27 L325.37 300.21 L325.45 300.07 L325.52 299.92 L325.60 299.69 L325.67 299.44 L325.75 299.12 L325.82 298.87 L325.90 298.72 L325.97 298.78 L326.00 298.85 L326.05 298.99 L326.12 299.21 L326.20 299.42 L326.27 299.57 L326.35 299.68 L326.42 299.74 L326.50 299.78 L326.57 299.80 L326.65 299.80 L326.67 299.80 L326.72 299.80 L326.80 299.78 L326.87 299.76 L326.95 299.72 L327.00 299.70 L327.02 299.69 L327.10 299.63 L327.17 299.57 L327.25 299.49 L327.32 299.41 L327.33 299.39 L327.40 299.28 L327.47 299.14 L327.55 298.93 L327.62 298.68 L327.70 298.31 L327.77 297.90 L327.85 297.36 L327.92 296.94 L328.00 296.73 L328.07 296.89 L328.15 297.36 L328.22 297.83 L328.30 298.31 L328.37 298.64 L328.40 298.76 L328.45 298.93 L328.47 298.99 L328.52 299.12 L328.55 299.19 L328.60 299.29 L328.62 299.32 L328.67 299.40 L328.70 299.44 L328.75 299.50 L328.77 299.53 L328.82 299.58 L328.85 299.60 L328.90 299.64 L328.92 299.66 L328.97 299.69 L329.00 299.71 L329.05 299.74 L329.07 299.75 L329.12 299.78 L329.15 299.79 L329.20 299.81 L329.22 299.82 L329.27 299.83 L329.30 299.84 L329.33 299.85 L329.35 299.85 L329.37 299.85 L329.42 299.86 L329.45 299.86 L329.50 299.86 L329.52 299.85 L329.57 299.84 L329.60 299.83 L329.65 299.81 L329.67 299.79 L329.72 299.75 L329.75 299.72 L329.80 299.66 L329.82 299.63 L329.90 299.47 L329.97 299.29 L330.00 299.19 L330.05 299.04 L330.12 298.84 L330.20 298.77 L330.27 298.88 L330.35 299.17 L330.42 299.45 L330.50 299.73 L330.57 299.93 L330.65 300.11 L330.67 300.15 L330.72 300.24 L330.80 300.35 L330.87 300.43 L330.95 300.51 L331.00 300.55 L331.02 300.56 L331.10 300.62 L331.17 300.66 L331.25 300.70 L331.32 300.74 L331.33 300.74 L331.40 300.77 L331.47 300.80 L331.55 300.83 L331.62 300.86 L331.70 300.88 L331.77 300.90 L331.85 300.93 L331.92 300.94 L332.00 300.96 L332.67 301.08 L333.00 301.11 L333.33 301.14 L334.00 301.17 L335.00 301.18 L336.00 301.19 L337.00 301.19 L338.00 301.19 L339.00 301.19 L340.00 301.20 L341.00 301.20 L342.00 301.20 L343.00 301.20 L344.00 301.20 L345.00 301.20 L346.00 301.20 L347.00 301.20 L348.00 301.19 L349.00 301.19 L350.00 301.18 L350.40 301.17 L350.45 301.16 L350.50 301.16 L350.55 301.16 L350.60 301.16 L350.65 301.15 L350.70 301.15 L350.75 301.14 L350.80 301.14 L350.85 301.13 L350.90 301.13 L350.95 301.12 L351.00 301.11 L351.05 301.10 L351.10 301.09 L351.15 301.07 L351.20 301.06 L351.25 301.03 L351.30 301.01 L351.35 300.97 L351.40 300.93 L351.45 300.87 L351.50 300.79 L351.55 300.67 L351.60 300.51 L351.65 300.26 L351.70 299.88 L351.75 299.25 L351.80 298.25 L351.85 296.94 L351.90 296.20 L351.95 296.94 L352.00 298.25 L352.05 299.25 L352.10 299.88 L352.15 300.26 L352.20 300.51 L352.25 300.67 L352.30 300.79 L352.35 300.87 L352.40 300.93 L352.45 300.97 L352.50 301.01 L352.55 301.03 L352.60 301.06 L352.65 301.07 L352.70 301.09 L352.75 301.10 L352.80 301.11 L352.85 301.12 L352.90 301.13 L352.95 301.13 L353.00 301.14 L353.05 301.15 L353.10 301.15 L353.15 301.15 L353.20 301.16 L353.25 301.16 L353.30 301.16 L353.35 301.16 L354.00 301.18 L355.00 301.19 L356.00 301.19 L357.00 301.20 L358.00 301.20 L359.00 301.20 L360.00 301.20 L361.00 301.20 L362.00 301.20 L363.00 301.20 L364.00 301.20 L365.00 301.20 L366.00 301.20 L367.00 301.20 L368.00 301.20 L369.00 301.20 L370.00 301.20 L371.00 301.20 L372.00 301.20 L373.00 301.20 L374.00 301.20 L375.00 301.20 L376.00 301.20 L377.00 301.20 L378.00 301.20 L379.00 301.20 L380.00 301.20 L381.00 301.20 L382.00 301.20 L383.00 301.20 L384.00 301.20 L385.00 301.20 L386.00 301.20 L387.00 301.20 L388.00 301.20 L389.00 301.20 L390.00 301.20 L391.00 301.20 L392.00 301.20 L393.00 301.20 L394.00 301.20 L395.00 301.20 L396.00 301.20 L397.00 301.19 L397.80 301.19 L398.00 301.18 L398.60 301.16 L399.00 301.14 L399.40 301.11 L400.00 301.05 L400.20 301.02 L401.00 300.88 L401.80 300.67 L402.00 300.60 L402.60 300.41 L403.00 300.28 L403.40 300.16 L404.00 300.01 L404.20 299.97 L405.00 299.90 L405.80 299.97 L406.00 300.01 L406.60 300.16 L407.00 300.28 L407.40 300.41 L408.00 300.60 L408.20 300.67 L409.00 300.88 L409.80 301.02 L410.00 301.05 L410.60 301.11 L411.00 301.14 L411.40 301.16 L412.00 301.18 L413.00 301.19 L413.90 301.16 L414.00 301.15 L414.47 301.09 L415.00 300.96 L415.03 300.95 L415.60 300.69 L416.00 300.40 L416.17 300.25 L416.73 299.64 L417.00 299.30 L417.30 298.89 L417.87 298.15 L418.00 298.00 L418.43 297.61 L419.00 297.40 L419.57 297.61 L420.00 298.00 L420.13 298.15 L420.70 298.89 L421.00 299.30 L421.27 299.64 L421.83 300.25 L422.00 300.40 L422.40 300.69 L422.97 300.95 L423.00 300.96 L423.53 301.09 L424.00 301.15 L424.10 301.16 L425.00 301.19 L426.00 301.20 L427.00 301.20 L428.00 301.20 L429.00 301.20 L430.00 301.20 L431.00 301.20 L431.50 301.20 L432.00 300.96 L433.00 300.48 L434.00 300.00 L435.00 298.76 L436.00 297.52 L436.50 296.90 L437.00 296.40 L438.00 295.40 L438.10 295.30 L439.00 296.20 L439.70 296.90 L440.00 296.65 L441.00 295.82 L441.50 295.40 L442.00 295.10 L443.00 294.50 L443.50 294.20 L444.00 294.07 L445.00 293.80 L446.00 292.80 L446.30 292.50 L447.00 299.24 L447.10 300.20 L448.00 301.20 L449.00 301.20 L450.00 301.20 L451.00 301.20 L452.00 301.20 L453.00 301.20 L454.00 301.20 L455.00 301.20 L456.00 301.20 L457.00 301.20 L458.00 301.20 L459.00 301.20 L460.00 301.20 L461.00 301.20 L462.00 301.20 L463.00 301.20 L464.00 301.20 L465.00 301.20 L466.00 301.20 L467.00 301.20 L468.00 301.20 L469.00 301.20 L470.00 301.20 L471.00 301.20 L472.00 301.20 L473.00 301.20 L474.00 301.19 L475.00 301.19 L476.00 301.19 L477.00 301.19 L478.00 301.19 L479.00 301.19 L480.00 301.18 L481.00 301.18 L482.00 301.17 L483.00 301.15 L484.00 301.12 L484.70 301.06 L484.77 301.05 L484.85 301.04 L484.92 301.03 L485.00 301.02 L485.07 301.00 L485.15 300.98 L485.22 300.96 L485.30 300.94 L485.37 300.91 L485.45 300.87 L485.52 300.83 L485.60 300.78 L485.67 300.72 L485.75 300.64 L485.82 300.55 L485.90 300.42 L485.97 300.27 L486.00 300.19 L486.05 300.04 L486.12 299.77 L486.20 299.37 L486.27 298.92 L486.35 298.33 L486.42 297.86 L486.50 297.62 L486.55 297.70 L486.57 297.78 L486.60 297.93 L486.65 298.26 L486.70 298.61 L486.72 298.75 L486.75 298.94 L486.80 299.23 L486.85 299.47 L486.87 299.55 L486.90 299.66 L486.95 299.81 L487.00 299.92 L487.02 299.96 L487.05 300.01 L487.10 300.07 L487.15 300.10 L487.17 300.11 L487.20 300.12 L487.25 300.11 L487.30 300.08 L487.32 300.06 L487.35 300.02 L487.40 299.94 L487.45 299.83 L487.47 299.77 L487.50 299.67 L487.55 299.46 L487.60 299.18 L487.62 299.04 L487.65 298.80 L487.70 298.29 L487.75 297.60 L487.77 297.26 L487.80 296.68 L487.85 295.49 L487.90 294.14 L487.92 293.61 L487.95 292.94 L488.00 292.44 L488.05 292.94 L488.07 293.36 L488.10 294.14 L488.15 295.49 L488.20 296.68 L488.22 297.08 L488.25 297.60 L488.30 298.29 L488.35 298.80 L488.37 298.97 L488.40 299.18 L488.45 299.46 L488.50 299.67 L488.52 299.74 L488.55 299.83 L488.60 299.94 L488.65 300.02 L488.67 300.05 L488.70 300.08 L488.75 300.11 L488.80 300.12 L488.82 300.11 L488.85 300.10 L488.90 300.07 L488.95 300.01 L488.97 299.98 L489.00 299.92 L489.05 299.81 L489.10 299.66 L489.12 299.59 L489.15 299.47 L489.20 299.23 L489.25 298.94 L489.27 298.81 L489.30 298.61 L489.35 298.26 L489.40 297.93 L489.42 297.82 L489.45 297.70 L489.50 297.62 L489.57 297.81 L489.65 298.33 L489.72 298.85 L489.80 299.37 L489.87 299.73 L489.95 300.04 L490.00 300.19 L490.02 300.24 L490.10 300.42 L490.17 300.54 L490.25 300.64 L490.32 300.72 L490.40 300.78 L490.47 300.83 L490.55 300.87 L490.62 300.91 L490.70 300.94 L490.77 300.96 L490.85 300.98 L490.92 301.00 L491.00 301.02 L491.07 301.03 L491.15 301.04 L491.22 301.05 L491.30 301.06 L492.00 301.12 L493.00 301.15 L494.00 301.17 L495.00 301.18 L496.00 301.18 L497.00 301.19 L498.00 301.19 L499.00 301.19 L500.00 301.19 L501.00 301.19 L502.00 301.20 L503.00 301.20 L504.00 301.20 L505.00 301.20 L506.00 301.20 L507.00 301.20 L508.00 301.20 L509.00 301.20 L510.00 301.20 L511.00 301.20 L512.00 301.20 L513.00 301.20 L514.00 301.20 L515.00 301.20 L516.00 301.20 L517.00 301.20 L518.00 301.20 L519.00 301.20 L520.00 301.20 L521.00 301.20 L522.00 301.20 L523.00 301.20 L524.00 301.20 L525.00 301.20 L526.00 301.20 L527.00 301.20 L528.00 301.20 L529.00 301.20 L530.00 301.20 L530.50 301.20" stroke="#84b86a"/>
<path d="M21.00 261.40 L22.00 261.40 L23.00 261.40 L24.00 261.40 L25.00 261.40 L26.00 261.40 L27.00 261.40 L28.00 261.40 L29.00 261.40 L30.00 261.40 L31.00 261.40 L32.00 261.40 L33.00 261.40 L34.00 261.40 L35.00 261.40 L36.00 261.40 L37.00 261.40 L38.00 261.40 L39.00 261.40 L40.00 261.40 L41.00 261.40 L41.33 261.39 L41.67 261.37 L42.00 261.35 L42.33 261.30 L42.67 261.23 L43.00 261.16 L43.33 261.08 L43.67 261.02 L44.00 261.00 L44.33 261.02 L44.67 261.08 L45.00 261.16 L45.33 261.23 L45.67 261.30 L46.00 261.35 L46.33 261.37 L46.67 261.39 L47.00 261.40 L48.00 261.40 L49.00 261.40 L50.00 261.40 L51.00 261.40 L52.00 261.40 L53.00 261.40 L54.00 261.40 L55.00 261.40 L56.00 261.40 L57.00 261.40 L58.00 261.40 L59.00 261.40 L60.00 261.40 L61.00 261.40 L62.00 261.40 L63.00 261.40 L64.00 261.40 L65.00 261.40 L66.00 261.40 L67.00 261.40 L68.00 261.40 L69.00 261.40 L70.00 261.40 L71.00 261.40 L72.00 261.40 L73.00 261.40 L74.00 261.40 L75.00 261.40 L76.00 261.40 L77.00 261.40 L78.00 261.40 L79.00 261.40 L80.00 261.40 L81.00 261.40 L82.00 261.40 L83.00 261.40 L84.00 261.40 L85.00 261.40 L86.00 261.40 L87.00 261.40 L88.00 261.40 L89.00 261.40 L90.00 261.40 L91.00 261.40 L92.00 261.40 L93.00 261.40 L94.00 261.40 L95.00 261.40 L96.00 261.40 L97.00 261.40 L98.00 261.40 L99.00 261.40 L100.00 261.40 L101.00 261.40 L102.00 261.40 L103.00 261.40 L104.00 261.40 L105.00 261.40 L106.00 261.40 L107.00 261.40 L108.00 261.40 L109.00 261.40 L110.00 261.40 L111.00 261.40 L112.00 261.40 L113.00 261.40 L114.00 261.40 L115.00 261.40 L116.00 261.40 L117.00 261.40 L118.00 261.40 L119.00 261.40 L120.00 261.40 L121.00 261.40 L122.00 261.40 L123.00 261.40 L124.00 261.40 L125.00 261.40 L126.00 261.40 L127.00 261.40 L128.00 261.40 L129.00 261.40 L130.00 261.40 L131.00 261.40 L132.00 261.40 L133.00 261.40 L134.00 261.40 L135.00 261.40 L136.00 261.40 L137.00 261.40 L138.00 261.40 L139.00 261.40 L140.00 261.40 L141.00 261.40 L142.00 261.40 L143.00 261.40 L144.00 261.40 L145.00 261.40 L146.00 261.40 L147.00 261.40 L148.00 261.40 L149.00 261.40 L150.00 261.40 L151.00 261.40 L152.00 261.40 L153.00 261.40 L154.00 261.40 L155.00 261.40 L156.00 261.40 L157.00 261.40 L158.00 261.40 L159.00 261.40 L160.00 261.40 L161.00 261.40 L162.00 261.40 L163.00 261.40 L164.00 261.40 L165.00 261.40 L166.00 261.39 L167.00 261.39 L168.00 261.39 L169.00 261.38 L170.00 261.38 L171.00 261.36 L172.00 261.31 L172.60 261.22 L172.65 261.21 L172.70 261.19 L172.75 261.18 L172.80 261.16 L172.85 261.14 L172.90 261.12 L172.95 261.09 L173.00 261.06 L173.05 261.03 L173.10 261.00 L173.15 260.95 L173.20 260.90 L173.25 260.84 L173.30 260.77 L173.35 260.69 L173.40 260.59 L173.45 260.46 L173.50 260.30 L173.55 260.10 L173.60 259.85 L173.65 259.51 L173.70 259.05 L173.75 258.40 L173.80 257.47 L173.85 256.06 L173.90 253.86 L173.95 250.28 L174.00 244.58 L174.05 237.12 L174.10 232.90 L174.15 237.12 L174.20 244.58 L174.25 250.28 L174.30 253.86 L174.35 256.06 L174.40 257.47 L174.45 258.40 L174.50 259.05 L174.55 259.51 L174.60 259.85 L174.65 260.10 L174.70 260.30 L174.75 260.46 L174.80 260.59 L174.85 260.69 L174.90 260.77 L174.95 260.84 L175.00 260.90 L175.05 260.95 L175.10 261.00 L175.15 261.03 L175.20 261.06 L175.25 261.09 L175.30 261.12 L175.35 261.14 L175.40 261.16 L175.45 261.18 L175.50 261.19 L175.55 261.21 L176.00 261.29 L177.00 261.35 L178.00 261.37 L179.00 261.38 L180.00 261.39 L181.00 261.39 L181.40 261.38 L181.80 261.37 L182.00 261.36 L182.20 261.35 L182.60 261.31 L183.00 261.26 L183.40 261.20 L183.80 261.14 L184.00 261.11 L184.20 261.09 L184.60 261.08 L185.00 261.09 L185.40 261.14 L185.80 261.20 L186.00 261.24 L186.20 261.27 L186.60 261.32 L187.00 261.35 L187.40 261.38 L187.80 261.39 L188.00 261.39 L189.00 261.40 L190.00 261.40 L191.00 261.40 L192.00 261.40 L193.00 261.40 L194.00 261.40 L195.00 261.40 L196.00 261.40 L197.00 261.40 L198.00 261.40 L199.00 261.40 L200.00 261.40 L201.00 261.40 L202.00 261.40 L203.00 261.40 L204.00 261.40 L205.00 261.40 L206.00 261.40 L207.00 261.40 L208.00 261.40 L209.00 261.40 L210.00 261.40 L211.00 261.40 L212.00 261.40 L213.00 261.40 L214.00 261.40 L215.00 261.40 L216.00 261.40 L217.00 261.40 L218.00 261.40 L219.00 261.40 L220.00 261.40 L221.00 261.40 L222.00 261.40 L223.00 261.40 L224.00 261.40 L225.00 261.40 L226.00 261.40 L227.00 261.40 L228.00 261.40 L229.00 261.40 L230.00 261.40 L231.00 261.40 L232.00 261.40 L233.00 261.40 L234.00 261.40 L235.00 261.40 L236.00 261.40 L237.00 261.40 L238.00 261.40 L239.00 261.40 L240.00 261.40 L241.00 261.40 L242.00 261.40 L243.00 261.40 L244.00 261.40 L245.00 261.40 L246.00 261.40 L247.00 261.40 L248.00 261.40 L249.00 261.40 L250.00 261.40 L251.00 261.40 L252.00 261.40 L253.00 261.40 L254.00 261.40 L255.00 261.40 L256.00 261.40 L257.00 261.39 L257.20 261.38 L257.53 261.36 L257.87 261.30 L258.00 261.27 L258.20 261.20 L258.53 261.03 L258.87 260.78 L259.00 260.67 L259.20 260.49 L259.53 260.20 L259.87 259.98 L260.00 259.93 L260.20 259.90 L260.53 259.98 L260.87 260.20 L261.00 260.31 L261.20 260.49 L261.53 260.78 L261.87 261.03 L262.00 261.10 L262.20 261.20 L262.53 261.30 L262.87 261.36 L263.00 261.37 L263.20 261.38 L264.00 261.40 L265.00 261.40 L266.00 261.40 L267.00 261.40 L268.00 261.40 L269.00 261.40 L270.00 261.40 L271.00 261.40 L272.00 261.40 L273.00 261.40 L274.00 261.40 L275.00 261.40 L276.00 261.40 L277.00 261.40 L278.00 261.40 L279.00 261.40 L280.00 261.40 L281.00 261.40 L282.00 261.40 L283.00 261.40 L284.00 261.40 L285.00 261.40 L286.00 261.40 L287.00 261.40 L288.00 261.40 L289.00 261.40 L290.00 261.40 L291.00 261.40 L292.00 261.40 L293.00 261.40 L294.00 261.40 L295.00 261.40 L296.00 261.40 L297.00 261.40 L298.00 261.40 L299.00 261.40 L300.00 261.40 L301.00 261.40 L302.00 261.40 L303.00 261.40 L304.00 261.40 L305.00 261.40 L306.00 261.40 L307.00 261.40 L308.00 261.40 L309.00 261.40 L310.00 261.40 L311.00 261.40 L312.00 261.40 L313.00 261.40 L314.00 261.40 L315.00 261.40 L316.00 261.40 L317.00 261.39 L318.00 261.39 L319.00 261.39 L320.00 261.39 L321.00 261.38 L322.00 261.37 L322.67 261.34 L323.00 261.32 L323.33 261.28 L324.00 261.18 L324.10 261.16 L324.17 261.14 L324.25 261.12 L324.32 261.10 L324.40 261.08 L324.47 261.05 L324.55 261.03 L324.62 261.00 L324.67 260.98 L324.70 260.97 L324.77 260.94 L324.85 260.90 L324.92 260.86 L325.00 260.82 L325.07 260.77 L325.15 260.71 L325.22 260.64 L325.30 260.55 L325.33 260.52 L325.37 260.46 L325.45 260.33 L325.52 260.18 L325.60 259.96 L325.67 259.73 L325.75 259.42 L325.82 259.18 L325.90 259.04 L325.97 259.09 L326.00 259.16 L326.05 259.30 L326.12 259.50 L326.20 259.71 L326.27 259.84 L326.35 259.95 L326.42 260.01 L326.50 260.05 L326.57 260.07 L326.65 260.07 L326.67 260.07 L326.72 260.07 L326.80 260.05 L326.87 260.03 L326.95 259.99 L327.00 259.97 L327.02 259.96 L327.10 259.91 L327.17 259.85 L327.25 259.78 L327.32 259.69 L327.33 259.68 L327.40 259.57 L327.47 259.44 L327.55 259.24 L327.62 259.00 L327.70 258.65 L327.77 258.25 L327.85 257.74 L327.92 257.34 L328.00 257.14 L328.07 257.29 L328.15 257.74 L328.22 258.19 L328.30 258.65 L328.37 258.97 L328.40 259.08 L328.45 259.24 L328.47 259.30 L328.52 259.42 L328.55 259.48 L328.60 259.58 L328.62 259.61 L328.67 259.69 L328.70 259.73 L328.75 259.78 L328.77 259.81 L328.82 259.85 L328.85 259.88 L328.90 259.92 L328.92 259.93 L328.97 259.97 L329.00 259.98 L329.05 260.01 L329.07 260.02 L329.12 260.04 L329.15 260.06 L329.20 260.08 L329.22 260.08 L329.27 260.10 L329.30 260.10 L329.33 260.11 L329.35 260.11 L329.37 260.12 L329.42 260.12 L329.45 260.12 L329.50 260.12 L329.52 260.12 L329.57 260.11 L329.60 260.10 L329.65 260.07 L329.67 260.06 L329.72 260.02 L329.75 259.99 L329.80 259.93 L329.82 259.90 L329.90 259.75 L329.97 259.58 L330.00 259.49 L330.05 259.34 L330.12 259.15 L330.20 259.08 L330.27 259.19 L330.35 259.46 L330.42 259.73 L330.50 260.00 L330.57 260.19 L330.65 260.36 L330.67 260.40 L330.72 260.48 L330.80 260.59 L330.87 260.67 L330.95 260.74 L331.00 260.78 L331.02 260.79 L331.10 260.85 L331.17 260.89 L331.25 260.93 L331.32 260.96 L331.33 260.97 L331.40 260.99 L331.47 261.02 L331.55 261.05 L331.62 261.07 L331.70 261.10 L331.77 261.12 L331.85 261.14 L331.92 261.16 L332.00 261.17 L332.67 261.28 L333.00 261.32 L333.33 261.34 L334.00 261.37 L335.00 261.38 L336.00 261.39 L337.00 261.39 L338.00 261.39 L339.00 261.39 L340.00 261.40 L341.00 261.40 L342.00 261.40 L343.00 261.40 L344.00 261.40 L345.00 261.40 L346.00 261.40 L347.00 261.39 L348.00 261.39 L349.00 261.39 L350.00 261.37 L350.40 261.35 L350.45 261.35 L350.50 261.35 L350.55 261.34 L350.60 261.34 L350.65 261.33 L350.70 261.33 L350.75 261.32 L350.80 261.31 L350.85 261.31 L350.90 261.30 L350.95 261.29 L351.00 261.27 L351.05 261.26 L351.10 261.24 L351.15 261.22 L351.20 261.19 L351.25 261.16 L351.30 261.12 L351.35 261.07 L351.40 261.01 L351.45 260.92 L351.50 260.80 L351.55 260.64 L351.60 260.41 L351.65 260.05 L351.70 259.49 L351.75 258.59 L351.80 257.15 L351.85 255.26 L351.90 254.20 L351.95 255.26 L352.00 257.15 L352.05 258.59 L352.10 259.49 L352.15 260.05 L352.20 260.41 L352.25 260.64 L352.30 260.80 L352.35 260.92 L352.40 261.01 L352.45 261.07 L352.50 261.12 L352.55 261.16 L352.60 261.19 L352.65 261.22 L352.70 261.24 L352.75 261.26 L352.80 261.27 L352.85 261.29 L352.90 261.30 L352.95 261.31 L353.00 261.31 L353.05 261.32 L353.10 261.33 L353.15 261.33 L353.20 261.34 L353.25 261.34 L353.30 261.35 L353.35 261.35 L354.00 261.38 L355.00 261.39 L356.00 261.39 L357.00 261.40 L358.00 261.40 L359.00 261.40 L360.00 261.40 L361.00 261.40 L362.00 261.40 L363.00 261.40 L364.00 261.40 L365.00 261.40 L366.00 261.40 L367.00 261.40 L368.00 261.40 L369.00 261.40 L370.00 261.40 L371.00 261.40 L372.00 261.40 L373.00 261.40 L374.00 261.40 L375.00 261.40 L376.00 261.40 L377.00 261.40 L378.00 261.40 L379.00 261.40 L380.00 261.40 L381.00 261.40 L382.00 261.40 L383.00 261.40 L384.00 261.40 L385.00 261.40 L386.00 261.40 L387.00 261.40 L388.00 261.40 L389.00 261.40 L390.00 261.40 L391.00 261.40 L392.00 261.40 L393.00 261.40 L394.00 261.40 L395.00 261.40 L396.00 261.40 L397.00 261.39 L397.80 261.38 L398.00 261.38 L398.60 261.35 L399.00 261.33 L399.40 261.29 L400.00 261.22 L400.20 261.18 L401.00 261.00 L401.80 260.74 L402.00 260.67 L402.60 260.43 L403.00 260.27 L403.40 260.12 L404.00 259.93 L404.20 259.89 L405.00 259.80 L405.80 259.89 L406.00 259.93 L406.60 260.12 L407.00 260.27 L407.40 260.43 L408.00 260.67 L408.20 260.74 L409.00 261.00 L409.80 261.18 L410.00 261.22 L410.60 261.29 L411.00 261.33 L411.40 261.35 L412.00 261.38 L413.00 261.39 L413.90 261.36 L414.00 261.35 L414.47 261.29 L415.00 261.16 L415.03 261.15 L415.60 260.89 L416.00 260.60 L416.17 260.45 L416.73 259.84 L417.00 259.50 L417.30 259.09 L417.87 258.35 L418.00 258.20 L418.43 257.81 L419.00 257.60 L419.57 257.81 L420.00 258.20 L420.13 258.35 L420.70 259.09 L421.00 259.50 L421.27 259.84 L421.83 260.45 L422.00 260.60 L422.40 260.89 L422.97 261.15 L423.00 261.16 L423.53 261.29 L424.00 261.35 L424.10 261.36 L425.00 261.39 L426.00 261.40 L427.00 261.40 L428.00 261.40 L429.00 261.40 L430.00 261.40 L431.00 261.40 L431.50 261.40 L432.00 260.85 L432.60 260.20 L433.00 260.71 L433.30 261.10 L434.00 260.69 L434.50 260.40 L435.00 259.84 L436.00 258.73 L437.00 257.61 L438.00 256.50 L439.00 255.70 L440.00 254.90 L441.00 255.70 L441.50 256.10 L442.00 255.33 L443.00 253.80 L444.00 253.28 L445.00 252.77 L446.00 252.25 L446.30 252.10 L447.00 259.36 L447.10 260.40 L448.00 261.40 L449.00 261.40 L450.00 261.40 L451.00 261.40 L452.00 261.40 L453.00 261.40 L454.00 261.40 L455.00 261.40 L456.00 261.40 L457.00 261.40 L458.00 261.40 L459.00 261.40 L460.00 261.40 L461.00 261.40 L462.00 261.40 L463.00 261.40 L464.00 261.40 L465.00 261.40 L466.00 261.40 L467.00 261.40 L468.00 261.40 L469.00 261.40 L470.00 261.40 L471.00 261.40 L472.00 261.40 L473.00 261.40 L474.00 261.40 L475.00 261.39 L476.00 261.39 L477.00 261.39 L478.00 261.39 L479.00 261.39 L480.00 261.39 L481.00 261.38 L482.00 261.37 L483.00 261.36 L484.00 261.33 L484.70 261.28 L484.77 261.27 L484.85 261.26 L484.92 261.25 L485.00 261.24 L485.07 261.23 L485.15 261.21 L485.22 261.19 L485.30 261.17 L485.37 261.14 L485.45 261.11 L485.52 261.08 L485.60 261.03 L485.67 260.98 L485.75 260.91 L485.82 260.83 L485.90 260.71 L485.97 260.58 L486.00 260.51 L486.05 260.38 L486.12 260.14 L486.20 259.78 L486.27 259.39 L486.35 258.86 L486.42 258.45 L486.50 258.24 L486.55 258.31 L486.57 258.38 L486.60 258.52 L486.65 258.81 L486.70 259.12 L486.72 259.24 L486.75 259.41 L486.80 259.66 L486.85 259.87 L486.87 259.94 L486.90 260.04 L486.95 260.17 L487.00 260.27 L487.02 260.31 L487.05 260.35 L487.10 260.40 L487.15 260.43 L487.17 260.44 L487.20 260.44 L487.25 260.44 L487.30 260.41 L487.32 260.39 L487.35 260.36 L487.40 260.29 L487.45 260.19 L487.47 260.14 L487.50 260.05 L487.55 259.87 L487.60 259.62 L487.62 259.50 L487.65 259.29 L487.70 258.83 L487.75 258.22 L487.77 257.92 L487.80 257.41 L487.85 256.36 L487.90 255.17 L487.92 254.70 L487.95 254.11 L488.00 253.67 L488.05 254.11 L488.07 254.49 L488.10 255.17 L488.15 256.36 L488.20 257.41 L488.22 257.76 L488.25 258.22 L488.30 258.83 L488.35 259.29 L488.37 259.43 L488.40 259.62 L488.45 259.87 L488.50 260.05 L488.52 260.11 L488.55 260.19 L488.60 260.29 L488.65 260.36 L488.67 260.38 L488.70 260.41 L488.75 260.44 L488.80 260.44 L488.82 260.44 L488.85 260.43 L488.90 260.40 L488.95 260.35 L488.97 260.32 L489.00 260.27 L489.05 260.17 L489.10 260.04 L489.12 259.98 L489.15 259.87 L489.20 259.66 L489.25 259.41 L489.27 259.29 L489.30 259.12 L489.35 258.81 L489.40 258.52 L489.42 258.42 L489.45 258.31 L489.50 258.24 L489.57 258.41 L489.65 258.86 L489.72 259.32 L489.80 259.78 L489.87 260.10 L489.95 260.38 L490.00 260.51 L490.02 260.56 L490.10 260.71 L490.17 260.82 L490.25 260.91 L490.32 260.97 L490.40 261.03 L490.47 261.07 L490.55 261.11 L490.62 261.14 L490.70 261.17 L490.77 261.19 L490.85 261.21 L490.92 261.22 L491.00 261.24 L491.07 261.25 L491.15 261.26 L491.22 261.27 L491.30 261.28 L492.00 261.33 L493.00 261.36 L494.00 261.37 L495.00 261.38 L496.00 261.39 L497.00 261.39 L498.00 261.39 L499.00 261.39 L500.00 261.39 L501.00 261.39 L502.00 261.40 L503.00 261.40 L504.00 261.40 L505.00 261.40 L506.00 261.40 L507.00 261.40 L508.00 261.40 L509.00 261.40 L510.00 261.40 L511.00 261.40 L512.00 261.40 L513.00 261.40 L514.00 261.40 L515.00 261.40 L516.00 261.40 L517.00 261.40 L518.00 261.40 L519.00 261.40 L520.00 261.40 L521.00 261.40 L522.00 261.40 L523.00 261.40 L524.00 261.40 L525.00 261.40 L526.00 261.40 L527.00 261.40 L528.00 261.40 L529.00 261.40 L530.00 261.40 L530.50 261.40" stroke="#5aa68a"/>
<path d="M21.00 222.00 L22.00 222.00 L23.00 222.00 L24.00 222.00 L25.00 222.00 L26.00 222.00 L27.00 222.00 L28.00 222.00 L29.00 222.00 L30.00 222.00 L31.00 222.00 L32.00 222.00 L33.00 222.00 L34.00 222.00 L35.00 222.00 L36.00 222.00 L37.00 222.00 L38.00 222.00 L39.00 222.00 L40.00 222.00 L41.00 221.99 L41.33 221.99 L41.67 221.97 L42.00 221.93 L42.33 221.88 L42.67 221.79 L43.00 221.70 L43.33 221.60 L43.67 221.53 L44.00 221.50 L44.33 221.53 L44.67 221.60 L45.00 221.70 L45.33 221.79 L45.67 221.88 L46.00 221.93 L46.33 221.97 L46.67 221.99 L47.00 221.99 L48.00 222.00 L49.00 222.00 L50.00 222.00 L51.00 222.00 L52.00 222.00 L53.00 222.00 L54.00 222.00 L55.00 222.00 L56.00 222.00 L57.00 222.00 L58.00 222.00 L59.00 222.00 L60.00 222.00 L61.00 222.00 L62.00 222.00 L63.00 222.00 L64.00 222.00 L65.00 222.00 L66.00 222.00 L67.00 222.00 L68.00 222.00 L69.00 222.00 L70.00 222.00 L71.00 222.00 L72.00 222.00 L73.00 222.00 L74.00 222.00 L75.00 222.00 L76.00 222.00 L77.00 222.00 L78.00 222.00 L79.00 222.00 L80.00 222.00 L81.00 222.00 L82.00 222.00 L83.00 222.00 L84.00 222.00 L85.00 222.00 L86.00 222.00 L87.00 222.00 L88.00 222.00 L89.00 222.00 L90.00 222.00 L91.00 222.00 L92.00 222.00 L93.00 222.00 L94.00 222.00 L95.00 222.00 L96.00 222.00 L97.00 222.00 L98.00 222.00 L99.00 222.00 L100.00 222.00 L101.00 222.00 L102.00 222.00 L103.00 222.00 L104.00 222.00 L105.00 222.00 L106.00 222.00 L107.00 222.00 L108.00 222.00 L109.00 222.00 L110.00 222.00 L111.00 222.00 L112.00 222.00 L113.00 222.00 L114.00 222.00 L115.00 222.00 L116.00 222.00 L117.00 222.00 L118.00 222.00 L119.00 222.00 L120.00 222.00 L121.00 222.00 L122.00 222.00 L123.00 222.00 L124.00 222.00 L125.00 222.00 L126.00 222.00 L127.00 222.00 L128.00 222.00 L129.00 222.00 L130.00 222.00 L131.00 222.00 L132.00 222.00 L133.00 222.00 L134.00 222.00 L135.00 222.00 L136.00 222.00 L137.00 222.00 L138.00 222.00 L139.00 222.00 L140.00 222.00 L141.00 222.00 L142.00 222.00 L143.00 222.00 L144.00 222.00 L145.00 222.00 L146.00 222.00 L147.00 222.00 L148.00 222.00 L149.00 222.00 L150.00 222.00 L151.00 222.00 L152.00 222.00 L153.00 222.00 L154.00 222.00 L155.00 222.00 L156.00 222.00 L157.00 222.00 L158.00 222.00 L159.00 222.00 L160.00 222.00 L161.00 222.00 L162.00 222.00 L163.00 222.00 L164.00 222.00 L165.00 222.00 L166.00 221.99 L167.00 221.99 L168.00 221.99 L169.00 221.99 L170.00 221.98 L171.00 221.96 L172.00 221.92 L172.60 221.83 L172.65 221.82 L172.70 221.81 L172.75 221.80 L172.80 221.78 L172.85 221.76 L172.90 221.74 L172.95 221.72 L173.00 221.69 L173.05 221.66 L173.10 221.63 L173.15 221.59 L173.20 221.55 L173.25 221.49 L173.30 221.43 L173.35 221.35 L173.40 221.26 L173.45 221.14 L173.50 221.00 L173.55 220.82 L173.60 220.58 L173.65 220.27 L173.70 219.85 L173.75 219.27 L173.80 218.41 L173.85 217.13 L173.90 215.12 L173.95 211.85 L174.00 206.66 L174.05 199.85 L174.10 196.00 L174.15 199.85 L174.20 206.66 L174.25 211.85 L174.30 215.12 L174.35 217.13 L174.40 218.41 L174.45 219.27 L174.50 219.85 L174.55 220.27 L174.60 220.58 L174.65 220.82 L174.70 221.00 L174.75 221.14 L174.80 221.26 L174.85 221.35 L174.90 221.43 L174.95 221.49 L175.00 221.55 L175.05 221.59 L175.10 221.63 L175.15 221.66 L175.20 221.69 L175.25 221.72 L175.30 221.74 L175.35 221.76 L175.40 221.78 L175.45 221.80 L175.50 221.81 L175.55 221.82 L176.00 221.90 L177.00 221.96 L178.00 221.98 L179.00 221.98 L180.00 221.99 L181.00 221.99 L181.40 221.98 L181.80 221.97 L182.00 221.96 L182.20 221.94 L182.60 221.90 L183.00 221.83 L183.40 221.75 L183.80 221.68 L184.00 221.64 L184.20 221.62 L184.60 221.60 L185.00 221.62 L185.40 221.68 L185.80 221.75 L186.00 221.79 L186.20 221.83 L186.60 221.90 L187.00 221.94 L187.40 221.97 L187.80 221.99 L188.00 221.99 L189.00 222.00 L190.00 222.00 L191.00 222.00 L192.00 222.00 L193.00 222.00 L194.00 222.00 L195.00 222.00 L196.00 222.00 L197.00 222.00 L198.00 222.00 L199.00 222.00 L200.00 222.00 L201.00 222.00 L202.00 222.00 L203.00 222.00 L204.00 222.00 L205.00 222.00 L206.00 222.00 L207.00 222.00 L208.00 222.00 L209.00 222.00 L210.00 222.00 L211.00 222.00 L212.00 222.00 L213.00 222.00 L214.00 222.00 L215.00 222.00 L216.00 222.00 L217.00 222.00 L218.00 222.00 L219.00 222.00 L220.00 222.00 L221.00 222.00 L222.00 222.00 L223.00 222.00 L224.00 222.00 L225.00 222.00 L226.00 222.00 L227.00 222.00 L228.00 222.00 L229.00 222.00 L230.00 222.00 L231.00 222.00 L232.00 222.00 L233.00 222.00 L234.00 222.00 L235.00 222.00 L236.00 222.00 L237.00 222.00 L238.00 222.00 L239.00 222.00 L240.00 222.00 L241.00 222.00 L242.00 222.00 L243.00 222.00 L244.00 222.00 L245.00 222.00 L246.00 222.00 L247.00 222.00 L248.00 222.00 L249.00 222.00 L250.00 222.00 L251.00 222.00 L252.00 222.00 L253.00 222.00 L254.00 222.00 L255.00 222.00 L256.00 222.00 L257.00 221.99 L257.20 221.99 L257.53 221.97 L257.87 221.93 L258.00 221.91 L258.20 221.86 L258.53 221.75 L258.87 221.59 L259.00 221.51 L259.20 221.39 L259.53 221.20 L259.87 221.05 L260.00 221.02 L260.20 221.00 L260.53 221.05 L260.87 221.20 L261.00 221.27 L261.20 221.39 L261.53 221.59 L261.87 221.75 L262.00 221.80 L262.20 221.86 L262.53 221.93 L262.87 221.97 L263.00 221.98 L263.20 221.99 L264.00 222.00 L265.00 222.00 L266.00 222.00 L267.00 222.00 L268.00 222.00 L269.00 222.00 L270.00 222.00 L271.00 222.00 L272.00 222.00 L273.00 222.00 L274.00 222.00 L275.00 222.00 L276.00 222.00 L277.00 222.00 L278.00 222.00 L279.00 222.00 L280.00 222.00 L281.00 222.00 L282.00 222.00 L283.00 222.00 L284.00 222.00 L285.00 222.00 L286.00 222.00 L287.00 222.00 L288.00 222.00 L289.00 222.00 L290.00 222.00 L291.00 222.00 L292.00 222.00 L293.00 222.00 L294.00 222.00 L295.00 222.00 L296.00 222.00 L297.00 222.00 L298.00 222.00 L299.00 222.00 L300.00 222.00 L301.00 222.00 L302.00 222.00 L303.00 222.00 L304.00 222.00 L305.00 222.00 L306.00 222.00 L307.00 222.00 L308.00 222.00 L309.00 222.00 L310.00 222.00 L311.00 222.00 L312.00 222.00 L313.00 222.00 L314.00 222.00 L315.00 222.00 L316.00 222.00 L317.00 222.00 L318.00 221.99 L319.00 221.99 L320.00 221.99 L321.00 221.99 L322.00 221.97 L322.67 221.95 L323.00 221.93 L323.33 221.90 L324.00 221.81 L324.10 221.79 L324.17 221.78 L324.25 221.76 L324.32 221.74 L324.40 221.72 L324.47 221.71 L324.55 221.68 L324.62 221.66 L324.67 221.64 L324.70 221.63 L324.77 221.61 L324.85 221.57 L324.92 221.54 L325.00 221.50 L325.07 221.46 L325.15 221.41 L325.22 221.36 L325.30 221.28 L325.33 221.25 L325.37 221.20 L325.45 221.09 L325.52 220.96 L325.60 220.78 L325.67 220.58 L325.75 220.32 L325.82 220.11 L325.90 219.99 L325.97 220.04 L326.00 220.09 L326.05 220.21 L326.12 220.39 L326.20 220.56 L326.27 220.68 L326.35 220.77 L326.42 220.82 L326.50 220.85 L326.57 220.87 L326.65 220.87 L326.67 220.87 L326.72 220.87 L326.80 220.85 L326.87 220.83 L326.95 220.80 L327.00 220.78 L327.02 220.77 L327.10 220.73 L327.17 220.68 L327.25 220.62 L327.32 220.55 L327.33 220.54 L327.40 220.45 L327.47 220.33 L327.55 220.16 L327.62 219.96 L327.70 219.66 L327.77 219.33 L327.85 218.89 L327.92 218.55 L328.00 218.38 L328.07 218.51 L328.15 218.89 L328.22 219.27 L328.30 219.66 L328.37 219.93 L328.40 220.03 L328.45 220.16 L328.47 220.21 L328.52 220.32 L328.55 220.37 L328.60 220.45 L328.62 220.48 L328.67 220.54 L328.70 220.58 L328.75 220.63 L328.77 220.64 L328.82 220.69 L328.85 220.71 L328.90 220.74 L328.92 220.75 L328.97 220.78 L329.00 220.80 L329.05 220.82 L329.07 220.83 L329.12 220.85 L329.15 220.86 L329.20 220.87 L329.22 220.88 L329.27 220.89 L329.30 220.90 L329.33 220.90 L329.35 220.91 L329.37 220.91 L329.42 220.91 L329.45 220.91 L329.50 220.91 L329.52 220.91 L329.57 220.90 L329.60 220.89 L329.65 220.87 L329.67 220.86 L329.72 220.83 L329.75 220.80 L329.80 220.75 L329.82 220.73 L329.90 220.60 L329.97 220.45 L330.00 220.38 L330.05 220.25 L330.12 220.09 L330.20 220.03 L330.27 220.12 L330.35 220.35 L330.42 220.58 L330.50 220.81 L330.57 220.97 L330.65 221.12 L330.67 221.15 L330.72 221.22 L330.80 221.31 L330.87 221.38 L330.95 221.44 L331.00 221.47 L331.02 221.48 L331.10 221.53 L331.17 221.56 L331.25 221.60 L331.32 221.63 L331.33 221.63 L331.40 221.66 L331.47 221.68 L331.55 221.70 L331.62 221.72 L331.70 221.74 L331.77 221.76 L331.85 221.78 L331.92 221.79 L332.00 221.81 L332.67 221.90 L333.00 221.93 L333.33 221.95 L334.00 221.97 L335.00 221.99 L336.00 221.99 L337.00 221.99 L338.00 221.99 L339.00 221.99 L340.00 222.00 L341.00 222.00 L342.00 222.00 L343.00 222.00 L344.00 221.99 L345.00 221.99 L346.00 221.99 L347.00 221.99 L348.00 221.99 L349.00 221.97 L350.00 221.94 L350.40 221.91 L350.45 221.90 L350.50 221.89 L350.55 221.89 L350.60 221.88 L350.65 221.87 L350.70 221.86 L350.75 221.84 L350.80 221.83 L350.85 221.81 L350.90 221.80 L350.95 221.77 L351.00 221.75 L351.05 221.72 L351.10 221.68 L351.15 221.64 L351.20 221.59 L351.25 221.53 L351.30 221.45 L351.35 221.35 L351.40 221.22 L351.45 221.05 L351.50 220.82 L351.55 220.49 L351.60 220.03 L351.65 219.32 L351.70 218.21 L351.75 216.42 L351.80 213.56 L351.85 209.81 L351.90 207.70 L351.95 209.81 L352.00 213.56 L352.05 216.42 L352.10 218.21 L352.15 219.32 L352.20 220.03 L352.25 220.49 L352.30 220.82 L352.35 221.05 L352.40 221.22 L352.45 221.35 L352.50 221.45 L352.55 221.53 L352.60 221.59 L352.65 221.64 L352.70 221.68 L352.75 221.72 L352.80 221.75 L352.85 221.77 L352.90 221.80 L352.95 221.81 L353.00 221.83 L353.05 221.85 L353.10 221.86 L353.15 221.87 L353.20 221.88 L353.25 221.89 L353.30 221.89 L353.35 221.90 L354.00 221.95 L355.00 221.98 L356.00 221.99 L357.00 221.99 L358.00 221.99 L359.00 222.00 L360.00 222.00 L361.00 222.00 L362.00 222.00 L363.00 222.00 L364.00 222.00 L365.00 222.00 L366.00 222.00 L367.00 222.00 L368.00 222.00 L369.00 222.00 L370.00 222.00 L371.00 222.00 L372.00 222.00 L373.00 222.00 L374.00 222.00 L375.00 222.00 L376.00 222.00 L377.00 222.00 L378.00 222.00 L379.00 222.00 L380.00 222.00 L381.00 222.00 L382.00 222.00 L383.00 222.00 L384.00 222.00 L385.00 222.00 L386.00 222.00 L387.00 222.00 L388.00 222.00 L389.00 222.00 L390.00 222.00 L391.00 222.00 L392.00 222.00 L393.00 222.00 L394.00 222.00 L395.00 222.00 L396.00 222.00 L397.00 221.99 L397.80 221.98 L398.00 221.98 L398.60 221.95 L399.00 221.93 L399.40 221.89 L400.00 221.82 L400.20 221.78 L401.00 221.60 L401.80 221.34 L402.00 221.27 L402.60 221.03 L403.00 220.87 L403.40 220.72 L404.00 220.53 L404.20 220.49 L405.00 220.40 L405.80 220.49 L406.00 220.53 L406.60 220.72 L407.00 220.87 L407.40 221.03 L408.00 221.27 L408.20 221.34 L409.00 221.60 L409.80 221.78 L410.00 221.82 L410.60 221.89 L411.00 221.93 L411.40 221.95 L412.00 221.98 L413.00 221.99 L413.60 221.98 L414.00 221.96 L414.20 221.95 L414.80 221.89 L415.00 221.86 L415.40 221.78 L416.00 221.60 L416.60 221.34 L417.00 221.14 L417.20 221.03 L417.80 220.72 L418.00 220.63 L418.40 220.49 L419.00 220.40 L419.60 220.49 L420.00 220.63 L420.20 220.72 L420.80 221.03 L421.00 221.14 L421.40 221.34 L422.00 221.60 L422.60 221.78 L423.00 221.86 L423.20 221.89 L423.80 221.95 L424.00 221.97 L425.00 221.99 L426.00 222.00 L427.00 222.00 L428.00 222.00 L429.00 222.00 L430.00 222.00 L431.00 222.00 L431.80 222.00 L432.00 221.60 L432.60 220.40 L433.00 221.14 L433.30 221.70 L434.00 221.58 L434.50 221.50 L435.00 221.00 L436.00 220.00 L437.00 219.00 L438.00 218.00 L439.00 217.00 L439.50 216.50 L440.00 215.97 L441.00 214.91 L441.20 214.70 L442.00 214.70 L443.00 214.70 L443.20 214.70 L444.00 214.53 L445.00 214.31 L445.50 214.20 L446.00 213.26 L446.30 212.70 L447.00 220.00 L447.60 221.70 L448.00 221.79 L449.00 222.00 L450.00 222.00 L451.00 222.00 L452.00 222.00 L453.00 222.00 L454.00 222.00 L455.00 222.00 L456.00 222.00 L457.00 222.00 L458.00 222.00 L459.00 222.00 L460.00 222.00 L461.00 222.00 L462.00 222.00 L463.00 222.00 L464.00 222.00 L465.00 222.00 L466.00 222.00 L467.00 222.00 L468.00 222.00 L469.00 222.00 L470.00 222.00 L471.00 222.00 L472.00 222.00 L473.00 222.00 L474.00 222.00 L475.00 222.00 L476.00 222.00 L477.00 221.99 L478.00 221.99 L479.00 221.99 L480.00 221.99 L481.00 221.98 L482.00 221.98 L483.00 221.97 L484.00 221.94 L484.70 221.90 L484.77 221.90 L484.85 221.89 L484.92 221.88 L485.00 221.87 L485.07 221.86 L485.15 221.85 L485.22 221.83 L485.30 221.81 L485.37 221.79 L485.45 221.77 L485.52 221.74 L485.60 221.70 L485.67 221.66 L485.75 221.61 L485.82 221.54 L485.90 221.45 L485.97 221.34 L486.00 221.29 L486.05 221.18 L486.12 220.99 L486.20 220.71 L486.27 220.39 L486.35 219.97 L486.42 219.64 L486.50 219.47 L486.55 219.53 L486.57 219.58 L486.60 219.69 L486.65 219.92 L486.70 220.17 L486.72 220.27 L486.75 220.41 L486.80 220.61 L486.85 220.78 L486.87 220.83 L486.90 220.91 L486.95 221.02 L487.00 221.10 L487.02 221.13 L487.05 221.16 L487.10 221.20 L487.15 221.23 L487.17 221.23 L487.20 221.23 L487.25 221.23 L487.30 221.21 L487.32 221.19 L487.35 221.17 L487.40 221.11 L487.45 221.03 L487.47 220.99 L487.50 220.92 L487.55 220.77 L487.60 220.58 L487.62 220.48 L487.65 220.31 L487.70 219.95 L487.75 219.46 L487.77 219.22 L487.80 218.81 L487.85 217.97 L487.90 217.01 L487.92 216.64 L487.95 216.17 L488.00 215.82 L488.05 216.17 L488.07 216.47 L488.10 217.01 L488.15 217.97 L488.20 218.81 L488.22 219.09 L488.25 219.46 L488.30 219.95 L488.35 220.31 L488.37 220.43 L488.40 220.58 L488.45 220.77 L488.50 220.92 L488.52 220.97 L488.55 221.03 L488.60 221.11 L488.65 221.17 L488.67 221.19 L488.70 221.21 L488.75 221.23 L488.80 221.23 L488.82 221.23 L488.85 221.23 L488.90 221.20 L488.95 221.16 L488.97 221.14 L489.00 221.10 L489.05 221.02 L489.10 220.91 L489.12 220.86 L489.15 220.78 L489.20 220.61 L489.25 220.41 L489.27 220.32 L489.30 220.17 L489.35 219.92 L489.40 219.69 L489.42 219.62 L489.45 219.53 L489.50 219.47 L489.57 219.61 L489.65 219.97 L489.72 220.34 L489.80 220.71 L489.87 220.96 L489.95 221.18 L490.00 221.29 L490.02 221.33 L490.10 221.45 L490.17 221.53 L490.25 221.61 L490.32 221.66 L490.40 221.70 L490.47 221.74 L490.55 221.77 L490.62 221.79 L490.70 221.81 L490.77 221.83 L490.85 221.85 L490.92 221.86 L491.00 221.87 L491.07 221.88 L491.15 221.89 L491.22 221.90 L491.30 221.90 L492.00 221.94 L493.00 221.97 L494.00 221.98 L495.00 221.98 L496.00 221.99 L497.00 221.99 L498.00 221.99 L499.00 221.99 L500.00 222.00 L501.00 222.00 L502.00 222.00 L503.00 222.00 L504.00 222.00 L505.00 222.00 L506.00 222.00 L507.00 222.00 L508.00 222.00 L509.00 222.00 L510.00 222.00 L511.00 222.00 L512.00 222.00 L513.00 222.00 L514.00 222.00 L515.00 222.00 L516.00 222.00 L517.00 222.00 L518.00 222.00 L519.00 222.00 L520.00 222.00 L521.00 222.00 L522.00 222.00 L523.00 222.00 L524.00 222.00 L525.00 222.00 L526.00 222.00 L527.00 222.00 L528.00 222.00 L529.00 222.00 L530.00 222.00 L530.50 222.00" stroke="#5cb2c0"/>
<path d="M21.00 182.30 L22.00 182.30 L23.00 182.30 L24.00 182.30 L25.00 182.30 L26.00 182.30 L27.00 182.30 L28.00 182.30 L29.00 182.30 L30.00 182.30 L31.00 182.30 L32.00 182.30 L33.00 182.30 L34.00 182.30 L35.00 182.30 L36.00 182.30 L37.00 182.30 L38.00 182.30 L39.00 182.30 L40.00 182.30 L41.00 182.29 L41.33 182.28 L41.67 182.26 L42.00 182.22 L42.33 182.15 L42.67 182.05 L43.00 181.94 L43.33 181.82 L43.67 181.73 L44.00 181.70 L44.33 181.73 L44.67 181.82 L45.00 181.94 L45.33 182.05 L45.67 182.15 L46.00 182.22 L46.33 182.26 L46.67 182.28 L47.00 182.29 L48.00 182.30 L49.00 182.30 L50.00 182.30 L51.00 182.30 L52.00 182.30 L53.00 182.30 L54.00 182.30 L55.00 182.30 L56.00 182.30 L57.00 182.30 L58.00 182.30 L59.00 182.30 L60.00 182.30 L61.00 182.30 L62.00 182.30 L63.00 182.30 L64.00 182.30 L65.00 182.30 L66.00 182.30 L67.00 182.30 L68.00 182.30 L69.00 182.30 L70.00 182.30 L71.00 182.30 L72.00 182.30 L73.00 182.30 L74.00 182.30 L75.00 182.30 L76.00 182.30 L77.00 182.30 L78.00 182.30 L79.00 182.30 L80.00 182.30 L81.00 182.30 L82.00 182.30 L83.00 182.30 L84.00 182.30 L85.00 182.30 L86.00 182.30 L87.00 182.30 L88.00 182.30 L89.00 182.30 L90.00 182.30 L91.00 182.30 L92.00 182.30 L93.00 182.30 L94.00 182.30 L95.00 182.30 L96.00 182.30 L97.00 182.30 L98.00 182.30 L99.00 182.30 L100.00 182.30 L101.00 182.30 L102.00 182.30 L103.00 182.30 L104.00 182.30 L105.00 182.30 L106.00 182.30 L107.00 182.30 L108.00 182.30 L109.00 182.30 L110.00 182.30 L111.00 182.30 L112.00 182.30 L113.00 182.30 L114.00 182.30 L115.00 182.30 L116.00 182.30 L117.00 182.30 L118.00 182.30 L119.00 182.30 L120.00 182.30 L121.00 182.30 L122.00 182.30 L123.00 182.30 L124.00 182.30 L125.00 182.30 L126.00 182.30 L127.00 182.30 L128.00 182.30 L129.00 182.30 L130.00 182.30 L131.00 182.30 L132.00 182.30 L133.00 182.30 L134.00 182.30 L135.00 182.30 L136.00 182.30 L137.00 182.30 L138.00 182.30 L139.00 182.30 L140.00 182.30 L141.00 182.30 L142.00 182.30 L143.00 182.30 L144.00 182.30 L145.00 182.30 L146.00 182.30 L147.00 182.30 L148.00 182.30 L149.00 182.30 L150.00 182.30 L151.00 182.30 L152.00 182.30 L153.00 182.30 L154.00 182.30 L155.00 182.30 L156.00 182.30 L157.00 182.30 L158.00 182.30 L159.00 182.30 L160.00 182.30 L161.00 182.30 L162.00 182.30 L163.00 182.30 L164.00 182.30 L165.00 182.30 L166.00 182.29 L167.00 182.29 L168.00 182.29 L169.00 182.29 L170.00 182.28 L171.00 182.26 L172.00 182.21 L172.60 182.13 L172.65 182.12 L172.70 182.11 L172.75 182.09 L172.80 182.07 L172.85 182.06 L172.90 182.04 L172.95 182.01 L173.00 181.99 L173.05 181.96 L173.10 181.92 L173.15 181.88 L173.20 181.83 L173.25 181.78 L173.30 181.71 L173.35 181.63 L173.40 181.54 L173.45 181.42 L173.50 181.27 L173.55 181.09 L173.60 180.85 L173.65 180.53 L173.70 180.10 L173.75 179.49 L173.80 178.62 L173.85 177.30 L173.90 175.23 L173.95 171.88 L174.00 166.54 L174.05 159.55 L174.10 155.60 L174.15 159.55 L174.20 166.54 L174.25 171.88 L174.30 175.23 L174.35 177.30 L174.40 178.62 L174.45 179.49 L174.50 180.10 L174.55 180.53 L174.60 180.85 L174.65 181.09 L174.70 181.27 L174.75 181.42 L174.80 181.54 L174.85 181.63 L174.90 181.71 L174.95 181.78 L175.00 181.83 L175.05 181.88 L175.10 181.92 L175.15 181.96 L175.20 181.99 L175.25 182.01 L175.30 182.04 L175.35 182.06 L175.40 182.07 L175.45 182.09 L175.50 182.11 L175.55 182.12 L176.00 182.19 L177.00 182.25 L178.00 182.27 L179.00 182.28 L180.00 182.29 L181.00 182.29 L181.40 182.28 L181.80 182.26 L182.00 182.25 L182.20 182.23 L182.60 182.17 L183.00 182.10 L183.40 182.00 L183.80 181.91 L184.00 181.87 L184.20 181.84 L184.60 181.82 L185.00 181.84 L185.40 181.91 L185.80 182.01 L186.00 182.05 L186.20 182.10 L186.60 182.18 L187.00 182.23 L187.40 182.27 L187.80 182.28 L188.00 182.29 L189.00 182.30 L190.00 182.30 L191.00 182.30 L192.00 182.30 L193.00 182.30 L194.00 182.30 L195.00 182.30 L196.00 182.30 L197.00 182.30 L198.00 182.30 L199.00 182.30 L200.00 182.30 L201.00 182.30 L202.00 182.30 L203.00 182.30 L204.00 182.30 L205.00 182.30 L206.00 182.30 L207.00 182.30 L208.00 182.30 L209.00 182.30 L210.00 182.30 L211.00 182.30 L212.00 182.30 L213.00 182.30 L214.00 182.30 L215.00 182.30 L216.00 182.30 L217.00 182.30 L218.00 182.30 L219.00 182.30 L220.00 182.30 L221.00 182.30 L222.00 182.30 L223.00 182.30 L224.00 182.30 L225.00 182.30 L226.00 182.30 L227.00 182.30 L228.00 182.30 L229.00 182.30 L230.00 182.30 L231.00 182.30 L232.00 182.30 L233.00 182.30 L234.00 182.30 L235.00 182.30 L236.00 182.30 L237.00 182.30 L238.00 182.30 L239.00 182.30 L240.00 182.30 L241.00 182.30 L242.00 182.30 L243.00 182.30 L244.00 182.30 L245.00 182.30 L246.00 182.30 L247.00 182.30 L248.00 182.30 L249.00 182.30 L250.00 182.30 L251.00 182.30 L252.00 182.30 L253.00 182.30 L254.00 182.30 L255.00 182.30 L256.00 182.30 L257.00 182.29 L257.20 182.29 L257.53 182.27 L257.87 182.23 L258.00 182.21 L258.20 182.16 L258.53 182.05 L258.87 181.89 L259.00 181.81 L259.20 181.69 L259.53 181.50 L259.87 181.35 L260.00 181.32 L260.20 181.30 L260.53 181.35 L260.87 181.50 L261.00 181.57 L261.20 181.69 L261.53 181.89 L261.87 182.05 L262.00 182.10 L262.20 182.16 L262.53 182.23 L262.87 182.27 L263.00 182.28 L263.20 182.29 L264.00 182.30 L265.00 182.30 L266.00 182.30 L267.00 182.30 L268.00 182.30 L269.00 182.30 L270.00 182.30 L271.00 182.30 L272.00 182.30 L273.00 182.30 L274.00 182.30 L275.00 182.30 L276.00 182.30 L277.00 182.30 L278.00 182.30 L279.00 182.30 L280.00 182.30 L281.00 182.30 L282.00 182.30 L283.00 182.30 L284.00 182.30 L285.00 182.30 L286.00 182.30 L287.00 182.30 L288.00 182.30 L289.00 182.30 L290.00 182.30 L291.00 182.30 L292.00 182.30 L293.00 182.30 L294.00 182.30 L295.00 182.30 L296.00 182.30 L297.00 182.30 L298.00 182.30 L299.00 182.30 L300.00 182.30 L301.00 182.30 L302.00 182.30 L303.00 182.30 L304.00 182.30 L305.00 182.30 L306.00 182.30 L307.00 182.30 L308.00 182.30 L309.00 182.30 L310.00 182.30 L311.00 182.30 L312.00 182.30 L313.00 182.30 L314.00 182.30 L315.00 182.30 L316.00 182.30 L317.00 182.30 L318.00 182.29 L319.00 182.29 L320.00 182.29 L321.00 182.29 L322.00 182.27 L322.67 182.25 L323.00 182.23 L323.33 182.20 L324.00 182.11 L324.10 182.09 L324.17 182.07 L324.25 182.05 L324.32 182.04 L324.40 182.02 L324.47 182.00 L324.55 181.97 L324.62 181.95 L324.67 181.93 L324.70 181.92 L324.77 181.90 L324.85 181.86 L324.92 181.83 L325.00 181.79 L325.07 181.75 L325.15 181.69 L325.22 181.64 L325.30 181.56 L325.33 181.53 L325.37 181.48 L325.45 181.36 L325.52 181.23 L325.60 181.04 L325.67 180.84 L325.75 180.57 L325.82 180.36 L325.90 180.24 L325.97 180.28 L326.00 180.34 L326.05 180.46 L326.12 180.64 L326.20 180.82 L326.27 180.94 L326.35 181.03 L326.42 181.08 L326.50 181.12 L326.57 181.13 L326.65 181.14 L326.67 181.14 L326.72 181.13 L326.80 181.12 L326.87 181.10 L326.95 181.07 L327.00 181.05 L327.02 181.04 L327.10 180.99 L327.17 180.95 L327.25 180.88 L327.32 180.81 L327.33 180.79 L327.40 180.70 L327.47 180.58 L327.55 180.41 L327.62 180.20 L327.70 179.89 L327.77 179.55 L327.85 179.10 L327.92 178.75 L328.00 178.57 L328.07 178.71 L328.15 179.10 L328.22 179.49 L328.30 179.89 L328.37 180.17 L328.40 180.27 L328.45 180.41 L328.47 180.46 L328.52 180.57 L328.55 180.62 L328.60 180.71 L328.62 180.74 L328.67 180.80 L328.70 180.83 L328.75 180.89 L328.77 180.90 L328.82 180.95 L328.85 180.97 L328.90 181.00 L328.92 181.02 L328.97 181.04 L329.00 181.06 L329.05 181.08 L329.07 181.09 L329.12 181.11 L329.15 181.12 L329.20 181.14 L329.22 181.15 L329.27 181.16 L329.30 181.17 L329.33 181.17 L329.35 181.17 L329.37 181.18 L329.42 181.18 L329.45 181.18 L329.50 181.18 L329.52 181.18 L329.57 181.17 L329.60 181.16 L329.65 181.14 L329.67 181.13 L329.72 181.09 L329.75 181.07 L329.80 181.02 L329.82 180.99 L329.90 180.86 L329.97 180.70 L330.00 180.63 L330.05 180.50 L330.12 180.34 L330.20 180.27 L330.27 180.37 L330.35 180.60 L330.42 180.84 L330.50 181.08 L330.57 181.24 L330.65 181.39 L330.67 181.43 L330.72 181.50 L330.80 181.59 L330.87 181.66 L330.95 181.72 L331.00 181.76 L331.02 181.77 L331.10 181.81 L331.17 181.85 L331.25 181.89 L331.32 181.92 L331.33 181.92 L331.40 181.95 L331.47 181.97 L331.55 181.99 L331.62 182.01 L331.70 182.03 L331.77 182.05 L331.85 182.07 L331.92 182.09 L332.00 182.10 L332.67 182.20 L333.00 182.23 L333.33 182.25 L334.00 182.27 L335.00 182.28 L336.00 182.29 L337.00 182.29 L338.00 182.29 L339.00 182.29 L340.00 182.29 L341.00 182.29 L342.00 182.29 L343.00 182.29 L344.00 182.29 L345.00 182.29 L346.00 182.29 L347.00 182.29 L348.00 182.28 L349.00 182.27 L350.00 182.23 L350.40 182.18 L350.45 182.17 L350.50 182.17 L350.55 182.16 L350.60 182.14 L350.65 182.13 L350.70 182.12 L350.75 182.10 L350.80 182.08 L350.85 182.06 L350.90 182.04 L350.95 182.01 L351.00 181.98 L351.05 181.94 L351.10 181.90 L351.15 181.84 L351.20 181.78 L351.25 181.70 L351.30 181.60 L351.35 181.47 L351.40 181.30 L351.45 181.08 L351.50 180.79 L351.55 180.37 L351.60 179.77 L351.65 178.87 L351.70 177.45 L351.75 175.16 L351.80 171.50 L351.85 166.71 L351.90 164.00 L351.95 166.71 L352.00 171.50 L352.05 175.16 L352.10 177.45 L352.15 178.87 L352.20 179.77 L352.25 180.37 L352.30 180.79 L352.35 181.08 L352.40 181.30 L352.45 181.47 L352.50 181.60 L352.55 181.70 L352.60 181.78 L352.65 181.84 L352.70 181.90 L352.75 181.94 L352.80 181.98 L352.85 182.01 L352.90 182.04 L352.95 182.06 L353.00 182.08 L353.05 182.10 L353.10 182.12 L353.15 182.13 L353.20 182.14 L353.25 182.16 L353.30 182.17 L353.35 182.17 L354.00 182.24 L355.00 182.27 L356.00 182.28 L357.00 182.29 L358.00 182.29 L359.00 182.29 L360.00 182.30 L361.00 182.30 L362.00 182.30 L363.00 182.30 L364.00 182.30 L365.00 182.30 L366.00 182.30 L367.00 182.30 L368.00 182.30 L369.00 182.30 L370.00 182.30 L371.00 182.30 L372.00 182.30 L373.00 182.30 L374.00 182.30 L375.00 182.30 L376.00 182.30 L377.00 182.30 L378.00 182.30 L379.00 182.30 L380.00 182.30 L381.00 182.30 L382.00 182.30 L383.00 182.30 L384.00 182.30 L385.00 182.30 L386.00 182.30 L387.00 182.30 L388.00 182.30 L389.00 182.30 L390.00 182.30 L391.00 182.30 L392.00 182.30 L393.00 182.30 L394.00 182.30 L395.00 182.30 L396.00 182.30 L397.00 182.29 L397.80 182.28 L398.00 182.28 L398.60 182.25 L399.00 182.23 L399.40 182.19 L400.00 182.12 L400.20 182.08 L401.00 181.90 L401.80 181.64 L402.00 181.57 L402.60 181.33 L403.00 181.17 L403.40 181.02 L404.00 180.83 L404.20 180.79 L405.00 180.70 L405.80 180.79 L406.00 180.83 L406.60 181.02 L407.00 181.17 L407.40 181.33 L408.00 181.57 L408.20 181.64 L409.00 181.90 L409.80 182.08 L410.00 182.12 L410.60 182.19 L411.00 182.22 L411.40 182.24 L411.50 182.25 L412.00 182.25 L412.33 182.25 L413.00 182.23 L413.17 182.22 L414.00 182.14 L414.83 182.00 L415.00 181.97 L415.67 181.81 L416.00 181.72 L416.50 181.57 L417.00 181.43 L417.33 181.34 L418.00 181.19 L418.17 181.16 L419.00 181.10 L419.83 181.16 L420.00 181.19 L420.67 181.34 L421.00 181.43 L421.50 181.57 L422.00 181.72 L422.33 181.81 L423.00 181.97 L423.17 182.00 L424.00 182.14 L424.83 182.22 L425.00 182.23 L425.67 182.27 L426.00 182.28 L426.50 182.29 L427.00 182.29 L428.00 182.30 L429.00 182.30 L430.00 182.30 L431.00 182.30 L431.80 182.30 L432.00 181.80 L432.60 180.30 L433.00 181.27 L433.30 182.00 L434.00 181.88 L434.50 181.80 L435.00 181.30 L436.00 180.30 L437.00 179.30 L438.00 178.10 L439.00 176.90 L439.50 176.30 L440.00 175.75 L441.00 174.64 L441.40 174.20 L442.00 174.53 L443.00 175.08 L443.40 175.30 L444.00 174.72 L445.00 173.75 L446.00 172.79 L446.30 172.50 L447.00 179.80 L447.60 182.00 L448.00 182.09 L449.00 182.30 L450.00 182.30 L451.00 182.30 L452.00 182.30 L453.00 182.30 L454.00 182.30 L455.00 182.30 L456.00 182.30 L457.00 182.30 L458.00 182.30 L459.00 182.30 L460.00 182.30 L461.00 182.30 L462.00 182.30 L463.00 182.30 L464.00 182.30 L465.00 182.30 L466.00 182.30 L467.00 182.30 L468.00 182.30 L469.00 182.30 L470.00 182.30 L471.00 182.30 L472.00 182.30 L473.00 182.30 L474.00 182.30 L475.00 182.30 L476.00 182.29 L477.00 182.29 L478.00 182.29 L479.00 182.29 L480.00 182.29 L481.00 182.28 L482.00 182.28 L483.00 182.27 L484.00 182.24 L484.70 182.20 L484.77 182.19 L484.85 182.18 L484.92 182.17 L485.00 182.16 L485.07 182.15 L485.15 182.13 L485.22 182.12 L485.30 182.10 L485.37 182.08 L485.45 182.05 L485.52 182.02 L485.60 181.98 L485.67 181.94 L485.75 181.87 L485.82 181.80 L485.90 181.70 L485.97 181.59 L486.00 181.53 L486.05 181.41 L486.12 181.21 L486.20 180.90 L486.27 180.55 L486.35 180.10 L486.42 179.75 L486.50 179.56 L486.55 179.62 L486.57 179.68 L486.60 179.80 L486.65 180.05 L486.70 180.32 L486.72 180.42 L486.75 180.57 L486.80 180.79 L486.85 180.98 L486.87 181.04 L486.90 181.12 L486.95 181.24 L487.00 181.32 L487.02 181.35 L487.05 181.39 L487.10 181.43 L487.15 181.46 L487.17 181.47 L487.20 181.47 L487.25 181.46 L487.30 181.44 L487.32 181.43 L487.35 181.40 L487.40 181.34 L487.45 181.25 L487.47 181.21 L487.50 181.13 L487.55 180.97 L487.60 180.76 L487.62 180.65 L487.65 180.47 L487.70 180.08 L487.75 179.55 L487.77 179.29 L487.80 178.84 L487.85 177.93 L487.90 176.90 L487.92 176.49 L487.95 175.98 L488.00 175.60 L488.05 175.98 L488.07 176.31 L488.10 176.90 L488.15 177.93 L488.20 178.84 L488.22 179.15 L488.25 179.55 L488.30 180.08 L488.35 180.47 L488.37 180.59 L488.40 180.76 L488.45 180.97 L488.50 181.13 L488.52 181.18 L488.55 181.25 L488.60 181.34 L488.65 181.40 L488.67 181.42 L488.70 181.44 L488.75 181.46 L488.80 181.47 L488.82 181.47 L488.85 181.46 L488.90 181.43 L488.95 181.39 L488.97 181.37 L489.00 181.32 L489.05 181.24 L489.10 181.12 L489.12 181.07 L489.15 180.98 L489.20 180.79 L489.25 180.57 L489.27 180.48 L489.30 180.32 L489.35 180.05 L489.40 179.80 L489.42 179.72 L489.45 179.62 L489.50 179.56 L489.57 179.71 L489.65 180.10 L489.72 180.50 L489.80 180.90 L489.87 181.17 L489.95 181.41 L490.00 181.53 L490.02 181.57 L490.10 181.70 L490.17 181.79 L490.25 181.87 L490.32 181.93 L490.40 181.98 L490.47 182.02 L490.55 182.05 L490.62 182.07 L490.70 182.10 L490.77 182.12 L490.85 182.13 L490.92 182.15 L491.00 182.16 L491.07 182.17 L491.15 182.18 L491.22 182.19 L491.30 182.20 L492.00 182.24 L493.00 182.27 L494.00 182.28 L495.00 182.28 L496.00 182.29 L497.00 182.29 L498.00 182.29 L499.00 182.29 L500.00 182.29 L501.00 182.30 L502.00 182.30 L503.00 182.30 L504.00 182.30 L505.00 182.30 L506.00 182.30 L507.00 182.30 L508.00 182.30 L509.00 182.30 L510.00 182.30 L511.00 182.30 L512.00 182.30 L513.00 182.30 L514.00 182.30 L515.00 182.30 L516.00 182.30 L517.00 182.30 L518.00 182.30 L519.00 182.30 L520.00 182.30 L521.00 182.30 L522.00 182.30 L523.00 182.30 L524.00 182.30 L525.00 182.30 L526.00 182.30 L527.00 182.30 L528.00 182.30 L529.00 182.30 L530.00 182.30 L530.50 182.30" stroke="#7a84ac"/>
<path d="M21.00 142.60 L22.00 142.60 L23.00 142.60 L24.00 142.60 L25.00 142.60 L26.00 142.60 L27.00 142.60 L28.00 142.60 L29.00 142.60 L30.00 142.60 L31.00 142.60 L32.00 142.60 L33.00 142.60 L34.00 142.60 L35.00 142.60 L36.00 142.60 L37.00 142.60 L38.00 142.60 L39.00 142.60 L40.00 142.60 L41.00 142.59 L41.33 142.58 L41.67 142.55 L42.00 142.51 L42.33 142.43 L42.67 142.31 L43.00 142.18 L43.33 142.04 L43.67 141.94 L44.00 141.90 L44.33 141.94 L44.67 142.04 L45.00 142.18 L45.33 142.31 L45.67 142.43 L46.00 142.51 L46.33 142.55 L46.67 142.58 L47.00 142.59 L48.00 142.60 L49.00 142.60 L50.00 142.60 L51.00 142.60 L52.00 142.60 L53.00 142.60 L54.00 142.60 L55.00 142.60 L56.00 142.60 L57.00 142.60 L58.00 142.60 L59.00 142.60 L60.00 142.60 L61.00 142.60 L62.00 142.60 L63.00 142.60 L64.00 142.60 L65.00 142.60 L66.00 142.60 L67.00 142.60 L68.00 142.60 L69.00 142.60 L70.00 142.60 L71.00 142.60 L72.00 142.60 L73.00 142.60 L74.00 142.60 L75.00 142.60 L76.00 142.60 L77.00 142.60 L78.00 142.60 L79.00 142.60 L80.00 142.60 L81.00 142.60 L82.00 142.60 L83.00 142.60 L84.00 142.60 L85.00 142.60 L86.00 142.60 L87.00 142.60 L88.00 142.60 L89.00 142.60 L90.00 142.60 L91.00 142.60 L92.00 142.60 L93.00 142.60 L94.00 142.60 L95.00 142.60 L96.00 142.60 L97.00 142.60 L98.00 142.60 L99.00 142.60 L100.00 142.60 L101.00 142.60 L102.00 142.60 L103.00 142.60 L104.00 142.60 L105.00 142.60 L106.00 142.60 L107.00 142.60 L108.00 142.60 L109.00 142.60 L110.00 142.60 L111.00 142.60 L112.00 142.60 L113.00 142.60 L114.00 142.60 L115.00 142.60 L116.00 142.60 L117.00 142.60 L118.00 142.60 L119.00 142.60 L120.00 142.60 L121.00 142.60 L122.00 142.60 L123.00 142.60 L124.00 142.60 L125.00 142.60 L126.00 142.60 L127.00 142.60 L128.00 142.60 L129.00 142.60 L130.00 142.60 L131.00 142.60 L132.00 142.60 L133.00 142.60 L134.00 142.60 L135.00 142.60 L136.00 142.60 L137.00 142.60 L138.00 142.60 L139.00 142.60 L140.00 142.60 L141.00 142.60 L142.00 142.60 L143.00 142.60 L144.00 142.60 L145.00 142.60 L146.00 142.60 L147.00 142.60 L148.00 142.60 L149.00 142.60 L150.00 142.60 L151.00 142.60 L152.00 142.60 L153.00 142.60 L154.00 142.60 L155.00 142.60 L156.00 142.60 L157.00 142.60 L158.00 142.60 L159.00 142.60 L160.00 142.60 L161.00 142.60 L162.00 142.60 L163.00 142.60 L164.00 142.60 L165.00 142.60 L166.00 142.59 L167.00 142.59 L168.00 142.59 L169.00 142.58 L170.00 142.58 L171.00 142.56 L172.00 142.51 L172.60 142.42 L172.65 142.41 L172.70 142.39 L172.75 142.38 L172.80 142.36 L172.85 142.34 L172.90 142.32 L172.95 142.29 L173.00 142.26 L173.05 142.23 L173.10 142.20 L173.15 142.15 L173.20 142.10 L173.25 142.04 L173.30 141.97 L173.35 141.89 L173.40 141.79 L173.45 141.66 L173.50 141.50 L173.55 141.30 L173.60 141.05 L173.65 140.71 L173.70 140.25 L173.75 139.60 L173.80 138.67 L173.85 137.26 L173.90 135.06 L173.95 131.48 L174.00 125.78 L174.05 118.32 L174.10 114.10 L174.15 118.32 L174.20 125.78 L174.25 131.48 L174.30 135.06 L174.35 137.26 L174.40 138.67 L174.45 139.60 L174.50 140.25 L174.55 140.71 L174.60 141.05 L174.65 141.30 L174.70 141.50 L174.75 141.66 L174.80 141.79 L174.85 141.89 L174.90 141.97 L174.95 142.04 L175.00 142.10 L175.05 142.15 L175.10 142.20 L175.15 142.23 L175.20 142.26 L175.25 142.29 L175.30 142.32 L175.35 142.34 L175.40 142.36 L175.45 142.38 L175.50 142.39 L175.55 142.41 L176.00 142.49 L177.00 142.55 L178.00 142.57 L179.00 142.58 L180.00 142.59 L181.00 142.59 L181.40 142.58 L181.80 142.56 L182.00 142.54 L182.20 142.52 L182.60 142.45 L183.00 142.36 L183.40 142.26 L183.80 142.15 L184.00 142.10 L184.20 142.07 L184.60 142.04 L185.00 142.07 L185.40 142.15 L185.80 142.26 L186.00 142.31 L186.20 142.37 L186.60 142.46 L187.00 142.52 L187.40 142.56 L187.80 142.58 L188.00 142.59 L189.00 142.60 L190.00 142.60 L191.00 142.60 L192.00 142.60 L193.00 142.60 L194.00 142.60 L195.00 142.60 L196.00 142.60 L197.00 142.60 L198.00 142.60 L199.00 142.60 L200.00 142.60 L201.00 142.60 L202.00 142.60 L203.00 142.60 L204.00 142.60 L205.00 142.60 L206.00 142.60 L207.00 142.60 L208.00 142.60 L209.00 142.60 L210.00 142.60 L211.00 142.60 L212.00 142.60 L213.00 142.60 L214.00 142.60 L215.00 142.60 L216.00 142.60 L217.00 142.60 L218.00 142.60 L219.00 142.60 L220.00 142.60 L221.00 142.60 L222.00 142.60 L223.00 142.60 L224.00 142.60 L225.00 142.60 L226.00 142.60 L227.00 142.60 L228.00 142.60 L229.00 142.60 L230.00 142.60 L231.00 142.60 L232.00 142.60 L233.00 142.60 L234.00 142.60 L235.00 142.60 L236.00 142.60 L237.00 142.60 L238.00 142.60 L239.00 142.60 L240.00 142.60 L241.00 142.60 L242.00 142.60 L243.00 142.60 L244.00 142.60 L245.00 142.60 L246.00 142.60 L247.00 142.60 L248.00 142.60 L249.00 142.60 L250.00 142.60 L251.00 142.60 L252.00 142.60 L253.00 142.60 L254.00 142.60 L255.00 142.60 L256.00 142.60 L257.00 142.60 L257.20 142.59 L257.53 142.59 L257.87 142.57 L258.00 142.56 L258.20 142.53 L258.53 142.48 L258.87 142.39 L259.00 142.36 L259.20 142.30 L259.53 142.20 L259.87 142.13 L260.00 142.11 L260.20 142.10 L260.53 142.13 L260.87 142.20 L261.00 142.24 L261.20 142.30 L261.53 142.39 L261.87 142.48 L262.00 142.50 L262.20 142.53 L262.53 142.57 L262.87 142.59 L263.00 142.59 L263.20 142.59 L264.00 142.60 L265.00 142.60 L266.00 142.60 L267.00 142.60 L268.00 142.60 L269.00 142.60 L270.00 142.60 L271.00 142.60 L272.00 142.60 L273.00 142.60 L274.00 142.60 L275.00 142.60 L276.00 142.60 L277.00 142.60 L278.00 142.60 L279.00 142.60 L280.00 142.60 L281.00 142.60 L282.00 142.60 L283.00 142.60 L284.00 142.60 L285.00 142.60 L286.00 142.60 L287.00 142.60 L288.00 142.60 L289.00 142.60 L290.00 142.60 L291.00 142.60 L292.00 142.60 L293.00 142.60 L294.00 142.60 L295.00 142.60 L296.00 142.60 L297.00 142.60 L298.00 142.60 L299.00 142.60 L300.00 142.60 L301.00 142.60 L302.00 142.60 L303.00 142.60 L304.00 142.60 L305.00 142.60 L306.00 142.60 L307.00 142.60 L308.00 142.60 L309.00 142.60 L310.00 142.60 L311.00 142.60 L312.00 142.60 L313.00 142.60 L314.00 142.60 L315.00 142.60 L316.00 142.60 L317.00 142.60 L318.00 142.59 L319.00 142.59 L320.00 142.59 L321.00 142.58 L322.00 142.57 L322.67 142.54 L323.00 142.52 L323.33 142.49 L324.00 142.39 L324.10 142.37 L324.17 142.35 L324.25 142.33 L324.32 142.31 L324.40 142.29 L324.47 142.27 L324.55 142.24 L324.62 142.22 L324.67 142.20 L324.70 142.19 L324.77 142.16 L324.85 142.12 L324.92 142.09 L325.00 142.04 L325.07 142.00 L325.15 141.94 L325.22 141.88 L325.30 141.80 L325.33 141.76 L325.37 141.71 L325.45 141.58 L325.52 141.44 L325.60 141.23 L325.67 141.01 L325.75 140.72 L325.82 140.49 L325.90 140.36 L325.97 140.41 L326.00 140.47 L326.05 140.60 L326.12 140.80 L326.20 140.99 L326.27 141.12 L326.35 141.22 L326.42 141.28 L326.50 141.32 L326.57 141.33 L326.65 141.34 L326.67 141.34 L326.72 141.33 L326.80 141.32 L326.87 141.30 L326.95 141.26 L327.00 141.24 L327.02 141.23 L327.10 141.18 L327.17 141.13 L327.25 141.06 L327.32 140.98 L327.33 140.97 L327.40 140.86 L327.47 140.74 L327.55 140.54 L327.62 140.32 L327.70 139.98 L327.77 139.61 L327.85 139.12 L327.92 138.74 L328.00 138.55 L328.07 138.70 L328.15 139.12 L328.22 139.55 L328.30 139.99 L328.37 140.29 L328.40 140.39 L328.45 140.55 L328.47 140.60 L328.52 140.72 L328.55 140.78 L328.60 140.87 L328.62 140.90 L328.67 140.97 L328.70 141.01 L328.75 141.06 L328.77 141.08 L328.82 141.13 L328.85 141.16 L328.90 141.19 L328.92 141.21 L328.97 141.24 L329.00 141.25 L329.05 141.28 L329.07 141.29 L329.12 141.31 L329.15 141.32 L329.20 141.34 L329.22 141.35 L329.27 141.36 L329.30 141.37 L329.33 141.37 L329.35 141.38 L329.37 141.38 L329.42 141.38 L329.45 141.39 L329.50 141.38 L329.52 141.38 L329.57 141.37 L329.60 141.36 L329.65 141.34 L329.67 141.33 L329.72 141.29 L329.75 141.26 L329.80 141.21 L329.82 141.18 L329.90 141.04 L329.97 140.87 L330.00 140.78 L330.05 140.64 L330.12 140.47 L330.20 140.40 L330.27 140.50 L330.35 140.76 L330.42 141.01 L330.50 141.27 L330.57 141.45 L330.65 141.62 L330.67 141.65 L330.72 141.73 L330.80 141.83 L330.87 141.90 L330.95 141.97 L331.00 142.01 L331.02 142.02 L331.10 142.07 L331.17 142.11 L331.25 142.15 L331.32 142.18 L331.33 142.19 L331.40 142.21 L331.47 142.24 L331.55 142.27 L331.62 142.29 L331.70 142.31 L331.77 142.33 L331.85 142.35 L331.92 142.37 L332.00 142.38 L332.67 142.49 L333.00 142.52 L333.33 142.54 L334.00 142.57 L335.00 142.58 L336.00 142.59 L337.00 142.59 L338.00 142.59 L339.00 142.59 L340.00 142.59 L341.00 142.59 L342.00 142.59 L343.00 142.59 L344.00 142.59 L345.00 142.59 L346.00 142.59 L347.00 142.59 L348.00 142.58 L349.00 142.57 L350.00 142.52 L350.40 142.48 L350.45 142.47 L350.50 142.46 L350.55 142.45 L350.60 142.44 L350.65 142.43 L350.70 142.41 L350.75 142.39 L350.80 142.38 L350.85 142.35 L350.90 142.33 L350.95 142.30 L351.00 142.27 L351.05 142.23 L351.10 142.18 L351.15 142.12 L351.20 142.06 L351.25 141.97 L351.30 141.87 L351.35 141.74 L351.40 141.56 L351.45 141.34 L351.50 141.03 L351.55 140.60 L351.60 139.98 L351.65 139.04 L351.70 137.57 L351.75 135.18 L351.80 131.39 L351.85 126.41 L351.90 123.60 L351.95 126.41 L352.00 131.39 L352.05 135.18 L352.10 137.57 L352.15 139.04 L352.20 139.98 L352.25 140.60 L352.30 141.03 L352.35 141.34 L352.40 141.56 L352.45 141.74 L352.50 141.87 L352.55 141.97 L352.60 142.06 L352.65 142.12 L352.70 142.18 L352.75 142.23 L352.80 142.27 L352.85 142.30 L352.90 142.33 L352.95 142.35 L353.00 142.38 L353.05 142.39 L353.10 142.41 L353.15 142.43 L353.20 142.44 L353.25 142.45 L353.30 142.46 L353.35 142.47 L354.00 142.54 L355.00 142.57 L356.00 142.58 L357.00 142.59 L358.00 142.59 L359.00 142.59 L360.00 142.60 L361.00 142.60 L362.00 142.60 L363.00 142.60 L364.00 142.60 L365.00 142.60 L366.00 142.60 L367.00 142.60 L368.00 142.60 L369.00 142.60 L370.00 142.60 L371.00 142.60 L372.00 142.60 L373.00 142.60 L374.00 142.60 L375.00 142.60 L376.00 142.60 L377.00 142.60 L378.00 142.60 L379.00 142.60 L380.00 142.60 L381.00 142.60 L382.00 142.60 L383.00 142.60 L384.00 142.60 L385.00 142.60 L386.00 142.60 L387.00 142.60 L388.00 142.60 L389.00 142.60 L390.00 142.60 L391.00 142.60 L392.00 142.60 L393.00 142.60 L394.00 142.60 L395.00 142.60 L396.00 142.60 L397.00 142.59 L397.80 142.58 L398.00 142.57 L398.60 142.54 L399.00 142.50 L399.40 142.45 L400.00 142.35 L400.20 142.30 L401.00 142.05 L401.80 141.69 L402.00 141.59 L402.60 141.26 L403.00 141.04 L403.40 140.84 L404.00 140.58 L404.20 140.52 L405.00 140.39 L405.80 140.51 L406.00 140.57 L406.60 140.83 L407.00 141.03 L407.40 141.25 L407.67 141.39 L408.00 141.57 L408.20 141.67 L409.00 142.01 L409.33 142.12 L409.80 142.24 L410.00 142.28 L410.60 142.36 L411.00 142.39 L411.40 142.41 L412.00 142.41 L412.67 142.39 L413.00 142.37 L414.00 142.30 L414.33 142.27 L415.00 142.21 L416.00 142.11 L417.00 142.02 L417.67 141.96 L418.00 141.93 L419.00 141.86 L419.33 141.84 L420.00 141.82 L421.00 141.80 L422.00 141.82 L422.67 141.84 L423.00 141.86 L424.00 141.93 L424.33 141.96 L425.00 142.02 L426.00 142.11 L427.00 142.21 L427.67 142.27 L428.00 142.30 L429.00 142.38 L429.33 142.40 L430.00 142.44 L431.00 142.49 L431.80 142.52 L432.00 141.88 L432.60 139.95 L432.67 140.18 L433.00 141.27 L433.30 142.26 L434.00 142.16 L434.33 142.11 L434.50 142.08 L435.00 141.58 L436.00 140.59 L437.00 139.59 L438.00 138.40 L439.00 137.20 L439.50 136.60 L440.00 135.85 L441.00 134.35 L441.70 133.30 L442.00 133.62 L443.00 134.67 L443.50 135.20 L444.00 134.72 L445.00 133.75 L446.00 132.79 L446.30 132.50 L447.00 139.60 L447.60 142.30 L448.00 142.39 L449.00 142.60 L450.00 142.60 L451.00 142.60 L452.00 142.60 L453.00 142.60 L454.00 142.60 L455.00 142.60 L456.00 142.60 L457.00 142.60 L458.00 142.60 L459.00 142.60 L460.00 142.60 L461.00 142.60 L462.00 142.60 L463.00 142.60 L464.00 142.60 L465.00 142.60 L466.00 142.60 L467.00 142.60 L468.00 142.60 L469.00 142.60 L470.00 142.60 L471.00 142.60 L472.00 142.60 L473.00 142.60 L474.00 142.60 L475.00 142.60 L476.00 142.59 L477.00 142.59 L478.00 142.59 L479.00 142.59 L480.00 142.59 L481.00 142.58 L482.00 142.58 L483.00 142.56 L484.00 142.54 L484.70 142.49 L484.77 142.48 L484.85 142.47 L484.92 142.47 L485.00 142.45 L485.07 142.44 L485.15 142.43 L485.22 142.41 L485.30 142.39 L485.37 142.37 L485.45 142.34 L485.52 142.31 L485.60 142.27 L485.67 142.22 L485.75 142.15 L485.82 142.08 L485.90 141.98 L485.97 141.86 L486.00 141.79 L486.05 141.67 L486.12 141.46 L486.20 141.13 L486.27 140.77 L486.35 140.30 L486.42 139.93 L486.50 139.73 L486.55 139.80 L486.57 139.86 L486.60 139.99 L486.65 140.25 L486.70 140.53 L486.72 140.64 L486.75 140.79 L486.80 141.02 L486.85 141.21 L486.87 141.28 L486.90 141.37 L486.95 141.49 L487.00 141.58 L487.02 141.61 L487.05 141.65 L487.10 141.69 L487.15 141.72 L487.17 141.73 L487.20 141.73 L487.25 141.73 L487.30 141.70 L487.32 141.69 L487.35 141.66 L487.40 141.59 L487.45 141.50 L487.47 141.46 L487.50 141.38 L487.55 141.21 L487.60 140.99 L487.62 140.88 L487.65 140.68 L487.70 140.27 L487.75 139.72 L487.77 139.45 L487.80 138.98 L487.85 138.03 L487.90 136.95 L487.92 136.53 L487.95 135.99 L488.00 135.59 L488.05 135.99 L488.07 136.33 L488.10 136.95 L488.15 138.03 L488.20 138.98 L488.22 139.30 L488.25 139.72 L488.30 140.27 L488.35 140.68 L488.37 140.82 L488.40 140.99 L488.45 141.21 L488.50 141.38 L488.52 141.43 L488.55 141.50 L488.60 141.59 L488.65 141.66 L488.67 141.68 L488.70 141.70 L488.75 141.73 L488.80 141.73 L488.82 141.73 L488.85 141.72 L488.90 141.69 L488.95 141.65 L488.97 141.62 L489.00 141.58 L489.05 141.49 L489.10 141.37 L489.12 141.31 L489.15 141.21 L489.20 141.02 L489.25 140.79 L489.27 140.69 L489.30 140.53 L489.35 140.25 L489.40 139.99 L489.42 139.90 L489.45 139.80 L489.50 139.73 L489.57 139.89 L489.65 140.30 L489.72 140.72 L489.80 141.13 L489.87 141.42 L489.95 141.67 L490.00 141.79 L490.02 141.84 L490.10 141.98 L490.17 142.07 L490.25 142.15 L490.32 142.21 L490.40 142.27 L490.47 142.30 L490.55 142.34 L490.62 142.36 L490.70 142.39 L490.77 142.41 L490.85 142.43 L490.92 142.44 L491.00 142.45 L491.07 142.46 L491.15 142.47 L491.22 142.48 L491.30 142.49 L492.00 142.54 L493.00 142.56 L494.00 142.58 L495.00 142.58 L496.00 142.59 L497.00 142.59 L498.00 142.59 L499.00 142.59 L500.00 142.59 L501.00 142.60 L502.00 142.60 L503.00 142.60 L504.00 142.60 L505.00 142.60 L506.00 142.60 L507.00 142.60 L508.00 142.60 L509.00 142.60 L510.00 142.60 L511.00 142.60 L512.00 142.60 L513.00 142.60 L514.00 142.60 L515.00 142.60 L516.00 142.60 L517.00 142.60 L518.00 142.60 L519.00 142.60 L520.00 142.60 L521.00 142.60 L522.00 142.60 L523.00 142.60 L524.00 142.60 L525.00 142.60 L526.00 142.60 L527.00 142.60 L528.00 142.60 L529.00 142.60 L530.00 142.60 L530.50 142.60" stroke="#a488c2"/>
<path d="M21.00 102.90 L22.00 102.90 L23.00 102.90 L24.00 102.90 L25.00 102.90 L26.00 102.90 L27.00 102.90 L28.00 102.90 L29.00 102.90 L30.00 102.90 L31.00 102.90 L32.00 102.90 L33.00 102.90 L34.00 102.90 L35.00 102.90 L36.00 102.90 L37.00 102.90 L38.00 102.90 L39.00 102.90 L40.00 102.90 L41.00 102.89 L41.33 102.88 L41.67 102.85 L42.00 102.79 L42.33 102.70 L42.67 102.57 L43.00 102.41 L43.33 102.26 L43.67 102.14 L44.00 102.10 L44.33 102.14 L44.67 102.26 L45.00 102.41 L45.33 102.57 L45.67 102.70 L46.00 102.79 L46.33 102.85 L46.67 102.88 L47.00 102.89 L48.00 102.90 L49.00 102.90 L50.00 102.90 L51.00 102.90 L52.00 102.90 L53.00 102.90 L54.00 102.90 L55.00 102.90 L56.00 102.90 L57.00 102.90 L58.00 102.90 L59.00 102.90 L60.00 102.90 L61.00 102.90 L62.00 102.90 L63.00 102.90 L64.00 102.90 L65.00 102.90 L66.00 102.90 L67.00 102.90 L68.00 102.90 L69.00 102.90 L70.00 102.90 L71.00 102.90 L72.00 102.90 L73.00 102.90 L74.00 102.90 L75.00 102.90 L76.00 102.90 L77.00 102.90 L78.00 102.90 L79.00 102.90 L80.00 102.90 L81.00 102.90 L82.00 102.90 L83.00 102.90 L84.00 102.90 L85.00 102.90 L86.00 102.90 L87.00 102.90 L88.00 102.90 L89.00 102.90 L90.00 102.90 L91.00 102.90 L92.00 102.90 L93.00 102.90 L94.00 102.90 L95.00 102.90 L96.00 102.90 L97.00 102.90 L98.00 102.90 L99.00 102.90 L100.00 102.90 L101.00 102.90 L102.00 102.90 L103.00 102.90 L104.00 102.90 L105.00 102.90 L106.00 102.90 L107.00 102.90 L108.00 102.90 L109.00 102.90 L110.00 102.90 L111.00 102.90 L112.00 102.90 L113.00 102.90 L114.00 102.90 L115.00 102.90 L116.00 102.90 L117.00 102.90 L118.00 102.90 L119.00 102.90 L120.00 102.90 L121.00 102.90 L122.00 102.90 L123.00 102.90 L124.00 102.90 L125.00 102.90 L126.00 102.90 L127.00 102.90 L128.00 102.90 L129.00 102.90 L130.00 102.90 L131.00 102.90 L132.00 102.90 L133.00 102.90 L134.00 102.90 L135.00 102.90 L136.00 102.90 L137.00 102.90 L138.00 102.90 L139.00 102.90 L140.00 102.90 L141.00 102.90 L142.00 102.90 L143.00 102.90 L144.00 102.90 L145.00 102.90 L146.00 102.90 L147.00 102.90 L148.00 102.90 L149.00 102.90 L150.00 102.90 L151.00 102.90 L152.00 102.90 L153.00 102.90 L154.00 102.90 L155.00 102.90 L156.00 102.90 L157.00 102.90 L158.00 102.90 L159.00 102.90 L160.00 102.90 L161.00 102.90 L162.00 102.90 L163.00 102.90 L164.00 102.90 L165.00 102.89 L166.00 102.89 L167.00 102.89 L168.00 102.89 L169.00 102.88 L170.00 102.87 L171.00 102.85 L172.00 102.80 L172.60 102.70 L172.65 102.69 L172.70 102.67 L172.75 102.66 L172.80 102.64 L172.85 102.62 L172.90 102.59 L172.95 102.57 L173.00 102.54 L173.05 102.50 L173.10 102.46 L173.15 102.41 L173.20 102.36 L173.25 102.29 L173.30 102.22 L173.35 102.13 L173.40 102.01 L173.45 101.88 L173.50 101.71 L173.55 101.49 L173.60 101.21 L173.65 100.84 L173.70 100.34 L173.75 99.64 L173.80 98.62 L173.85 97.10 L173.90 94.69 L173.95 90.80 L174.00 84.60 L174.05 76.49 L174.10 71.90 L174.15 76.49 L174.20 84.60 L174.25 90.80 L174.30 94.69 L174.35 97.10 L174.40 98.62 L174.45 99.64 L174.50 100.34 L174.55 100.84 L174.60 101.21 L174.65 101.49 L174.70 101.71 L174.75 101.88 L174.80 102.01 L174.85 102.13 L174.90 102.22 L174.95 102.29 L175.00 102.36 L175.05 102.41 L175.10 102.46 L175.15 102.50 L175.20 102.54 L175.25 102.57 L175.30 102.59 L175.35 102.62 L175.40 102.64 L175.45 102.66 L175.50 102.67 L175.55 102.69 L176.00 102.78 L177.00 102.85 L178.00 102.87 L179.00 102.88 L180.00 102.89 L181.00 102.88 L181.40 102.87 L181.80 102.85 L182.00 102.83 L182.20 102.81 L182.60 102.73 L183.00 102.63 L183.40 102.51 L183.80 102.38 L184.00 102.33 L184.20 102.29 L184.60 102.26 L185.00 102.29 L185.40 102.38 L185.80 102.51 L186.00 102.57 L186.20 102.63 L186.60 102.74 L187.00 102.81 L187.40 102.86 L187.80 102.88 L188.00 102.89 L189.00 102.90 L190.00 102.90 L191.00 102.90 L192.00 102.90 L193.00 102.90 L194.00 102.90 L195.00 102.90 L196.00 102.90 L197.00 102.90 L198.00 102.90 L199.00 102.90 L200.00 102.90 L201.00 102.90 L202.00 102.90 L203.00 102.90 L204.00 102.90 L205.00 102.90 L206.00 102.90 L207.00 102.90 L208.00 102.90 L209.00 102.90 L210.00 102.90 L211.00 102.90 L212.00 102.90 L213.00 102.90 L214.00 102.90 L215.00 102.90 L216.00 102.90 L217.00 102.90 L218.00 102.90 L219.00 102.90 L220.00 102.90 L221.00 102.90 L222.00 102.90 L223.00 102.90 L224.00 102.90 L225.00 102.90 L226.00 102.90 L227.00 102.90 L228.00 102.90 L229.00 102.90 L230.00 102.90 L231.00 102.90 L232.00 102.90 L233.00 102.90 L234.00 102.90 L235.00 102.90 L236.00 102.90 L237.00 102.90 L238.00 102.90 L239.00 102.90 L240.00 102.90 L241.00 102.90 L242.00 102.90 L243.00 102.90 L244.00 102.90 L245.00 102.90 L246.00 102.90 L247.00 102.90 L248.00 102.90 L249.00 102.90 L250.00 102.90 L251.00 102.90 L252.00 102.90 L253.00 102.90 L254.00 102.90 L255.00 102.90 L256.00 102.90 L257.00 102.90 L257.20 102.90 L257.53 102.89 L257.87 102.87 L258.00 102.86 L258.20 102.85 L258.53 102.80 L258.87 102.73 L259.00 102.71 L259.20 102.66 L259.53 102.58 L259.87 102.52 L260.00 102.51 L260.20 102.50 L260.53 102.52 L260.87 102.58 L261.00 102.61 L261.20 102.66 L261.53 102.73 L261.87 102.80 L262.00 102.82 L262.20 102.85 L262.53 102.87 L262.87 102.89 L263.00 102.89 L263.20 102.90 L264.00 102.90 L265.00 102.90 L266.00 102.90 L267.00 102.90 L268.00 102.90 L269.00 102.90 L270.00 102.90 L271.00 102.90 L272.00 102.90 L273.00 102.90 L274.00 102.90 L275.00 102.90 L276.00 102.90 L277.00 102.90 L278.00 102.90 L279.00 102.90 L280.00 102.90 L281.00 102.90 L282.00 102.90 L283.00 102.90 L284.00 102.90 L285.00 102.90 L286.00 102.90 L287.00 102.90 L288.00 102.90 L289.00 102.90 L290.00 102.90 L291.00 102.90 L292.00 102.90 L293.00 102.90 L294.00 102.90 L295.00 102.90 L296.00 102.90 L297.00 102.90 L298.00 102.90 L299.00 102.90 L300.00 102.90 L301.00 102.90 L302.00 102.90 L303.00 102.90 L304.00 102.90 L305.00 102.90 L306.00 102.90 L307.00 102.90 L308.00 102.90 L309.00 102.90 L310.00 102.90 L311.00 102.90 L312.00 102.90 L313.00 102.90 L314.00 102.90 L315.00 102.90 L316.00 102.90 L317.00 102.89 L318.00 102.89 L319.00 102.89 L320.00 102.89 L321.00 102.88 L322.00 102.87 L322.67 102.84 L323.00 102.81 L323.33 102.78 L324.00 102.67 L324.10 102.64 L324.17 102.63 L324.25 102.60 L324.32 102.58 L324.40 102.56 L324.47 102.54 L324.55 102.51 L324.62 102.48 L324.67 102.46 L324.70 102.45 L324.77 102.41 L324.85 102.37 L324.92 102.34 L325.00 102.29 L325.07 102.24 L325.15 102.17 L325.22 102.10 L325.30 102.01 L325.33 101.97 L325.37 101.91 L325.45 101.77 L325.52 101.62 L325.60 101.39 L325.67 101.14 L325.75 100.82 L325.82 100.57 L325.90 100.42 L325.97 100.48 L326.00 100.55 L326.05 100.69 L326.12 100.91 L326.20 101.12 L326.27 101.26 L326.35 101.38 L326.42 101.44 L326.50 101.48 L326.57 101.50 L326.65 101.50 L326.67 101.50 L326.72 101.50 L326.80 101.48 L326.87 101.46 L326.95 101.42 L327.00 101.40 L327.02 101.38 L327.10 101.33 L327.17 101.27 L327.25 101.19 L327.32 101.11 L327.33 101.09 L327.40 100.98 L327.47 100.84 L327.55 100.63 L327.62 100.38 L327.70 100.01 L327.77 99.60 L327.85 99.06 L327.92 98.63 L328.00 98.43 L328.07 98.59 L328.15 99.06 L328.22 99.53 L328.30 100.01 L328.37 100.34 L328.40 100.46 L328.45 100.63 L328.47 100.69 L328.52 100.82 L328.55 100.89 L328.60 100.99 L328.62 101.02 L328.67 101.10 L328.70 101.14 L328.75 101.20 L328.77 101.23 L328.82 101.28 L328.85 101.30 L328.90 101.34 L328.92 101.36 L328.97 101.39 L329.00 101.41 L329.05 101.44 L329.07 101.45 L329.12 101.48 L329.15 101.49 L329.20 101.51 L329.22 101.52 L329.27 101.53 L329.30 101.54 L329.33 101.55 L329.35 101.55 L329.37 101.55 L329.42 101.56 L329.45 101.56 L329.50 101.55 L329.52 101.55 L329.57 101.54 L329.60 101.53 L329.65 101.51 L329.67 101.49 L329.72 101.45 L329.75 101.42 L329.80 101.36 L329.82 101.33 L329.90 101.17 L329.97 100.99 L330.00 100.89 L330.05 100.74 L330.12 100.54 L330.20 100.47 L330.27 100.58 L330.35 100.87 L330.42 101.15 L330.50 101.43 L330.57 101.63 L330.65 101.81 L330.67 101.85 L330.72 101.94 L330.80 102.05 L330.87 102.13 L330.95 102.20 L331.00 102.25 L331.02 102.26 L331.10 102.32 L331.17 102.36 L331.25 102.40 L331.32 102.44 L331.33 102.44 L331.40 102.47 L331.47 102.50 L331.55 102.53 L331.62 102.56 L331.70 102.58 L331.77 102.60 L331.85 102.62 L331.92 102.64 L332.00 102.66 L332.67 102.78 L333.00 102.81 L333.33 102.83 L334.00 102.86 L335.00 102.88 L336.00 102.89 L337.00 102.89 L338.00 102.89 L339.00 102.89 L340.00 102.89 L341.00 102.89 L342.00 102.89 L343.00 102.89 L344.00 102.89 L345.00 102.89 L346.00 102.89 L347.00 102.88 L348.00 102.88 L349.00 102.86 L350.00 102.81 L350.40 102.75 L350.45 102.74 L350.50 102.73 L350.55 102.72 L350.60 102.70 L350.65 102.69 L350.70 102.67 L350.75 102.65 L350.80 102.63 L350.85 102.60 L350.90 102.57 L350.95 102.54 L351.00 102.50 L351.05 102.45 L351.10 102.39 L351.15 102.32 L351.20 102.24 L351.25 102.14 L351.30 102.01 L351.35 101.85 L351.40 101.65 L351.45 101.37 L351.50 101.00 L351.55 100.48 L351.60 99.73 L351.65 98.59 L351.70 96.81 L351.75 93.92 L351.80 89.33 L351.85 83.30 L351.90 79.90 L351.95 83.30 L352.00 89.33 L352.05 93.92 L352.10 96.81 L352.15 98.59 L352.20 99.73 L352.25 100.48 L352.30 101.00 L352.35 101.37 L352.40 101.65 L352.45 101.85 L352.50 102.01 L352.55 102.14 L352.60 102.24 L352.65 102.32 L352.70 102.39 L352.75 102.45 L352.80 102.50 L352.85 102.54 L352.90 102.57 L352.95 102.60 L353.00 102.63 L353.05 102.65 L353.10 102.67 L353.15 102.69 L353.20 102.70 L353.25 102.72 L353.30 102.73 L353.35 102.74 L354.00 102.82 L355.00 102.86 L356.00 102.88 L357.00 102.89 L358.00 102.89 L359.00 102.89 L360.00 102.89 L361.00 102.90 L362.00 102.90 L363.00 102.90 L364.00 102.90 L365.00 102.90 L366.00 102.90 L367.00 102.90 L368.00 102.90 L369.00 102.90 L370.00 102.90 L371.00 102.90 L372.00 102.90 L373.00 102.90 L374.00 102.90 L375.00 102.90 L376.00 102.90 L377.00 102.90 L378.00 102.90 L379.00 102.90 L380.00 102.90 L381.00 102.90 L382.00 102.90 L383.00 102.90 L384.00 102.90 L385.00 102.90 L386.00 102.90 L387.00 102.90 L388.00 102.90 L389.00 102.90 L390.00 102.90 L391.00 102.90 L392.00 102.90 L393.00 102.90 L394.00 102.90 L395.00 102.90 L396.00 102.90 L397.00 102.89 L397.80 102.87 L398.00 102.86 L398.60 102.83 L399.00 102.79 L399.40 102.73 L400.00 102.60 L400.20 102.55 L401.00 102.25 L401.80 101.83 L402.00 101.71 L402.60 101.32 L403.00 101.06 L403.40 100.82 L404.00 100.51 L404.20 100.44 L405.00 100.29 L405.80 100.43 L406.00 100.51 L406.60 100.81 L407.00 101.05 L407.40 101.30 L407.67 101.48 L408.00 101.68 L408.20 101.80 L409.00 102.21 L409.33 102.34 L409.80 102.48 L410.00 102.53 L410.60 102.64 L411.00 102.68 L411.40 102.70 L412.00 102.70 L412.67 102.68 L413.00 102.67 L414.00 102.60 L414.33 102.57 L415.00 102.51 L416.00 102.41 L417.00 102.32 L417.67 102.26 L418.00 102.23 L419.00 102.16 L419.33 102.14 L420.00 102.12 L421.00 102.10 L422.00 102.12 L422.67 102.14 L423.00 102.16 L424.00 102.23 L424.33 102.26 L425.00 102.32 L426.00 102.41 L427.00 102.51 L427.67 102.57 L428.00 102.60 L429.00 102.68 L429.33 102.70 L430.00 102.74 L431.00 102.79 L431.80 102.82 L432.00 102.23 L432.60 100.45 L432.67 100.66 L433.00 101.65 L433.30 102.56 L434.00 102.40 L434.33 102.32 L434.50 102.28 L435.00 101.80 L436.00 100.85 L437.00 99.89 L438.00 98.70 L439.00 97.50 L439.50 96.90 L440.00 96.03 L441.00 94.29 L441.40 93.60 L442.00 94.29 L443.00 95.44 L443.40 95.90 L444.00 95.13 L445.00 93.86 L446.00 92.58 L446.30 92.20 L447.00 99.90 L447.60 102.60 L448.00 102.69 L449.00 102.90 L450.00 102.90 L451.00 102.90 L452.00 102.90 L453.00 102.90 L454.00 102.90 L455.00 102.90 L456.00 102.90 L457.00 102.90 L458.00 102.90 L459.00 102.90 L460.00 102.90 L461.00 102.90 L462.00 102.90 L463.00 102.90 L464.00 102.90 L465.00 102.90 L466.00 102.90 L467.00 102.90 L468.00 102.90 L469.00 102.90 L470.00 102.90 L471.00 102.90 L472.00 102.90 L473.00 102.90 L474.00 102.90 L475.00 102.90 L476.00 102.89 L477.00 102.89 L478.00 102.89 L479.00 102.89 L480.00 102.89 L481.00 102.88 L482.00 102.88 L483.00 102.86 L484.00 102.83 L484.70 102.79 L484.77 102.78 L484.85 102.77 L484.92 102.76 L485.00 102.75 L485.07 102.74 L485.15 102.72 L485.22 102.70 L485.30 102.68 L485.37 102.66 L485.45 102.63 L485.52 102.60 L485.60 102.56 L485.67 102.51 L485.75 102.44 L485.82 102.37 L485.90 102.26 L485.97 102.13 L486.00 102.07 L486.05 101.94 L486.12 101.72 L486.20 101.39 L486.27 101.02 L486.35 100.53 L486.42 100.15 L486.50 99.95 L486.55 100.02 L486.57 100.08 L486.60 100.21 L486.65 100.48 L486.70 100.77 L486.72 100.88 L486.75 101.04 L486.80 101.28 L486.85 101.47 L486.87 101.54 L486.90 101.63 L486.95 101.76 L487.00 101.85 L487.02 101.88 L487.05 101.92 L487.10 101.97 L487.15 102.00 L487.17 102.00 L487.20 102.01 L487.25 102.00 L487.30 101.98 L487.32 101.96 L487.35 101.93 L487.40 101.86 L487.45 101.77 L487.47 101.72 L487.50 101.64 L487.55 101.47 L487.60 101.24 L487.62 101.12 L487.65 100.93 L487.70 100.51 L487.75 99.94 L487.77 99.66 L487.80 99.17 L487.85 98.20 L487.90 97.08 L487.92 96.65 L487.95 96.10 L488.00 95.68 L488.05 96.10 L488.07 96.45 L488.10 97.08 L488.15 98.20 L488.20 99.17 L488.22 99.50 L488.25 99.94 L488.30 100.51 L488.35 100.93 L488.37 101.06 L488.40 101.24 L488.45 101.47 L488.50 101.64 L488.52 101.70 L488.55 101.77 L488.60 101.86 L488.65 101.93 L488.67 101.95 L488.70 101.98 L488.75 102.00 L488.80 102.01 L488.82 102.00 L488.85 102.00 L488.90 101.97 L488.95 101.92 L488.97 101.89 L489.00 101.85 L489.05 101.76 L489.10 101.63 L489.12 101.57 L489.15 101.47 L489.20 101.28 L489.25 101.04 L489.27 100.93 L489.30 100.77 L489.35 100.48 L489.40 100.21 L489.42 100.12 L489.45 100.02 L489.50 99.95 L489.57 100.11 L489.65 100.53 L489.72 100.96 L489.80 101.39 L489.87 101.69 L489.95 101.94 L490.00 102.07 L490.02 102.11 L490.10 102.26 L490.17 102.35 L490.25 102.44 L490.32 102.50 L490.40 102.56 L490.47 102.59 L490.55 102.63 L490.62 102.66 L490.70 102.68 L490.77 102.70 L490.85 102.72 L490.92 102.73 L491.00 102.75 L491.07 102.76 L491.15 102.77 L491.22 102.78 L491.30 102.79 L492.00 102.83 L493.00 102.86 L494.00 102.88 L495.00 102.88 L496.00 102.89 L497.00 102.89 L498.00 102.89 L499.00 102.89 L500.00 102.89 L501.00 102.90 L502.00 102.90 L503.00 102.90 L504.00 102.90 L505.00 102.90 L506.00 102.90 L507.00 102.90 L508.00 102.90 L509.00 102.90 L510.00 102.90 L511.00 102.90 L512.00 102.90 L513.00 102.90 L514.00 102.90 L515.00 102.90 L516.00 102.90 L517.00 102.90 L518.00 102.90 L519.00 102.90 L520.00 102.90 L521.00 102.90 L522.00 102.90 L523.00 102.90 L524.00 102.90 L525.00 102.90 L526.00 102.90 L527.00 102.90 L528.00 102.90 L529.00 102.90 L530.00 102.90 L530.50 102.90" stroke="#c47a9e"/>
</g>
<g stroke-width="0.9" fill="none" stroke-linecap="butt">
<polyline points="443.0,373.0 443.6,374.2 444.2,371.7 444.8,373.5 445.4,371.2 445.8,373.0 446.2,368.9 447.0,379.2 447.8,380.0 448.4,377.0" stroke="#b03a3a" stroke-width="0.8" stroke-linejoin="round"/>
<line x1="174.10" y1="380.20" x2="174.10" y2="347.70" stroke="#6a4020"/>
<line x1="488.00" y1="379.50" x2="488.00" y2="371.20" stroke="#6a4020" stroke-width="0.8"/>
<line x1="174.10" y1="340.20" x2="174.10" y2="311.80" stroke="#8a8a50"/>
<line x1="488.00" y1="339.50" x2="488.00" y2="334.10" stroke="#8a8a50" stroke-width="0.8"/>
<line x1="174.10" y1="300.40" x2="174.10" y2="270.00" stroke="#4a9a40"/>
<line x1="351.90" y1="300.40" x2="351.90" y2="296.50" stroke="#5a9a6a"/>
<line x1="488.00" y1="299.70" x2="488.00" y2="293.30" stroke="#4a9a40" stroke-width="0.8"/>
<line x1="174.10" y1="260.60" x2="174.10" y2="233.20" stroke="#2a8a5a"/>
<line x1="351.90" y1="260.60" x2="351.90" y2="254.50" stroke="#3a8a8a"/>
<line x1="488.00" y1="259.90" x2="488.00" y2="254.50" stroke="#2a8a5a" stroke-width="0.8"/>
<line x1="174.10" y1="221.20" x2="174.10" y2="196.30" stroke="#2a8a8a"/>
<line x1="351.90" y1="221.20" x2="351.90" y2="208.00" stroke="#3a7a9a"/>
<line x1="488.00" y1="220.50" x2="488.00" y2="216.60" stroke="#2a8a8a" stroke-width="0.8"/>
<line x1="174.10" y1="181.50" x2="174.10" y2="155.90" stroke="#3a5a7a"/>
<line x1="351.90" y1="181.50" x2="351.90" y2="164.30" stroke="#4a5a8a"/>
<line x1="488.00" y1="180.80" x2="488.00" y2="176.40" stroke="#3a5a7a" stroke-width="0.8"/>
<line x1="174.10" y1="141.80" x2="174.10" y2="114.40" stroke="#5a5a7a"/>
<line x1="351.90" y1="141.80" x2="351.90" y2="123.90" stroke="#6a6a9a"/>
<line x1="488.00" y1="141.10" x2="488.00" y2="136.40" stroke="#5a5a7a" stroke-width="0.8"/>
<line x1="174.10" y1="102.10" x2="174.10" y2="72.20" stroke="#6a5a5a"/>
<line x1="351.90" y1="102.10" x2="351.90" y2="80.20" stroke="#7a6aa0"/>
<line x1="488.00" y1="101.40" x2="488.00" y2="96.50" stroke="#6a5a5a" stroke-width="0.8"/>
</g>
<defs>
<linearGradient id="gb" gradientUnits="userSpaceOnUse" x1="0" y1="71" x2="0" y2="376"><stop offset="0" stop-color="#85add9" stop-opacity="0.42"/><stop offset="0.45" stop-color="#85add9" stop-opacity="0.42"/><stop offset="1" stop-color="#85add9" stop-opacity="0.22"/></linearGradient>
<linearGradient id="gr" gradientUnits="userSpaceOnUse" x1="0" y1="71" x2="0" y2="382"><stop offset="0" stop-color="#ef8a94" stop-opacity="0.1"/><stop offset="0.6" stop-color="#ef8a94" stop-opacity="0.42"/><stop offset="1" stop-color="#ef8a94" stop-opacity="0.45"/></linearGradient>
</defs>
<g>
<polygon points="40.2,71.0 48.0,71.0 44.3,376.0 43.9,376.0" fill="url(#gb)" fill-opacity="1"/>
<rect x="170.2" y="71.5" width="6.1" height="311.0" fill="#b1db97" fill-opacity="0.45"/>
<polygon points="180.7,71.5 188.5,71.5 184.8,375.0 184.4,375.0" fill="url(#gb)" fill-opacity="1"/>
<polygon points="260.0,71.5 259.0,115.0 256.9,275.0 255.7,382.5 264.9,382.5 263.8,275.0 261.6,115.0 260.6,71.5" fill="url(#gr)"/>
<rect x="323.2" y="71.5" width="9.6" height="311.0" fill="#b1db97" fill-opacity="0.45"/>
<polygon points="347.5,71.5 356.3,71.5 352.1,376.0 351.7,376.0" fill="url(#gb)" fill-opacity="1"/>
<rect x="483.6" y="71.5" width="8.7" height="311.0" fill="#b1db97" fill-opacity="0.45"/>
</g>
<g stroke="#7a7a7a" stroke-width="0.9" fill="none">
<line x1="533.5" y1="67" x2="533.5" y2="384"/>
<line x1="533.5" y1="364.6" x2="536" y2="364.6"/>
<line x1="533.5" y1="324.8" x2="536" y2="324.8"/>
<line x1="533.5" y1="285.0" x2="536" y2="285.0"/>
<line x1="533.5" y1="245.2" x2="536" y2="245.2"/>
<line x1="533.5" y1="205.4" x2="536" y2="205.4"/>
<line x1="533.5" y1="165.6" x2="536" y2="165.6"/>
<line x1="533.5" y1="125.8" x2="536" y2="125.8"/>
<line x1="533.5" y1="86.0" x2="536" y2="86.0"/>
<line x1="20.8" y1="404.6" x2="530.6" y2="404.6"/>
<line x1="21.4" y1="404.6" x2="21.4" y2="407.6"/>
<line x1="49.7" y1="403.6" x2="49.7" y2="405.6"/>
<line x1="78.0" y1="404.6" x2="78.0" y2="407.6"/>
<line x1="106.2" y1="403.6" x2="106.2" y2="405.6"/>
<line x1="134.5" y1="404.6" x2="134.5" y2="407.6"/>
<line x1="162.8" y1="403.6" x2="162.8" y2="405.6"/>
<line x1="191.1" y1="404.6" x2="191.1" y2="407.6"/>
<line x1="219.3" y1="403.6" x2="219.3" y2="405.6"/>
<line x1="247.6" y1="404.6" x2="247.6" y2="407.6"/>
<line x1="275.9" y1="403.6" x2="275.9" y2="405.6"/>
<line x1="304.1" y1="404.6" x2="304.1" y2="407.6"/>
<line x1="332.4" y1="403.6" x2="332.4" y2="405.6"/>
<line x1="360.7" y1="404.6" x2="360.7" y2="407.6"/>
<line x1="389.0" y1="403.6" x2="389.0" y2="405.6"/>
<line x1="417.2" y1="404.6" x2="417.2" y2="407.6"/>
<line x1="445.5" y1="403.6" x2="445.5" y2="405.6"/>
<line x1="473.8" y1="404.6" x2="473.8" y2="407.6"/>
<line x1="502.1" y1="403.6" x2="502.1" y2="405.6"/>
<line x1="530.3" y1="404.6" x2="530.3" y2="407.6"/>
</g>
<g font-size="9" font-weight="bold" fill="#333" stroke="#333" stroke-width="0.15">
<text x="536.8" y="367.6" textLength="3.6" lengthAdjust="spacingAndGlyphs">1</text>
<text x="536.8" y="327.8" textLength="3.6" lengthAdjust="spacingAndGlyphs">2</text>
<text x="536.8" y="288.0" textLength="3.6" lengthAdjust="spacingAndGlyphs">3</text>
<text x="536.8" y="248.2" textLength="3.6" lengthAdjust="spacingAndGlyphs">4</text>
<text x="536.8" y="208.4" textLength="3.6" lengthAdjust="spacingAndGlyphs">5</text>
<text x="536.8" y="168.6" textLength="3.6" lengthAdjust="spacingAndGlyphs">6</text>
<text x="536.8" y="128.8" textLength="3.6" lengthAdjust="spacingAndGlyphs">7</text>
<text x="536.8" y="89.0" textLength="3.6" lengthAdjust="spacingAndGlyphs">8</text>
</g>
<g font-size="8.6" font-weight="bold" fill="#444" text-anchor="middle">
<text x="25" y="418.1">.0</text>
<text x="78.0" y="418.1">4.5</text>
<text x="134.5" y="418.1">4.0</text>
<text x="191.1" y="418.1">3.5</text>
<text x="247.6" y="418.1">3.0</text>
<text x="304.1" y="418.1">2.5</text>
<text x="360.7" y="418.1">2.0</text>
<text x="417.2" y="418.1">1.5</text>
<text x="473.8" y="418.1">1.0</text>
<text x="530.3" y="418.1">0.5</text>
<text x="276" y="425.8" font-size="8.4" font-weight="normal">f1 (ppm)</text>
</g>
<g font-size="8.5" font-weight="bold" fill="#111" stroke="#111" stroke-width="0.25">
<text x="5.9" y="99.8">300 min</text>
<text x="5.9" y="136.6">240 min</text>
<text x="5.9" y="176.6">180 min</text>
<text x="5.9" y="217.0">120 min</text>
<text x="5.9" y="255.9">60 min</text>
<text x="5.9" y="293.9">35 min</text>
<text x="5.9" y="334.8">15 min</text>
<text x="12.6" y="373.6">T<tspan font-size="6.2" dx="0.1" dy="2.2">0</tspan></text>
</g>
<g font-size="6.6" fill="#222" stroke="#222" stroke-width="0.12">
<text x="106.9" y="369.1">Ethyl acetate</text>
<text x="295.7" y="363">Toluene</text>
<text x="362" y="367.6">Ethyl acetate</text>
</g>
<g stroke="#000" stroke-width="1.85" fill="none">
<path d="M121.5 375.0L124.9 379.6M124.9 375.0L121.5 379.6"/>
<path d="M320.3 368.5L323.3 373.1M323.3 368.5L320.3 373.1"/>
<path d="M356.4 369.8L359.6 375.0M359.6 369.8L356.4 375.0"/>
</g>
<g font-size="8" font-weight="bold" text-anchor="middle">
<text x="44" y="65.8" fill="#2a5b8c">d&#8217;</text>
<text x="173.3" y="65.4" font-size="8.6" fill="#1fba6e">a</text>
<text x="186.2" y="65.3" font-size="8.6" fill="#2a5b8c">d&#8221;</text>
<text x="259.7" y="65.6" fill="#e0262c">d</text>
<text x="327.2" y="65.2" fill="#1fba6e">b</text>
<text x="351.3" y="65.2" fill="#2a5b8c">1</text>
<text x="488.4" y="65.5" font-size="8.2" fill="#1fba6e">e</text>
</g>
<g stroke="#a6a6a6" stroke-width="1.15" fill="none" stroke-linejoin="round">
<polyline points="59.1,26 64.8,23.5"/>
<polyline points="71.8,24.7 79,27.6 89.3,21.8 99.3,27.4 109.2,21.8 119.1,27.4 129,21.8 138.8,27.4 149,21.8 158.4,26.8 168.2,21.4 178.5,27.4 189.3,21.8 199.5,27.4 209.3,21.8 219.3,27.4 229,21.8 239.4,27.4 249,21.6"/>
<line x1="77.7" y1="28" x2="77.7" y2="35.2"/><line x1="79.4" y1="28" x2="79.4" y2="35.2"/>
<line x1="158.5" y1="19" x2="158.5" y2="26.8"/><line x1="161" y1="17.2" x2="168.2" y2="21.4"/>
<polyline points="272.2,21 282.4,16.3 288.4,19.2"/>
<line x1="281.6" y1="16.3" x2="281.6" y2="8.5"/><line x1="283.3" y1="16.3" x2="283.3" y2="8.5"/>
<polyline points="325.2,23.2 331,19.8"/>
<polyline points="337.5,20.3 344.8,23.2 354.3,17.8 364.5,23.2 374.6,17.8 384.3,23.2 394.3,17.8 403.9,23.2 414,17.8 424.2,23.3 434.4,17.8 444.5,23.3 454.6,17.8 464.4,23.2 474.5,17.5 484,23.2 494.2,17.5 503.6,23.2 513.8,17.5"/>
<line x1="343.9" y1="23.6" x2="343.9" y2="31"/><line x1="345.6" y1="23.6" x2="345.6" y2="31"/>
<line x1="434.4" y1="17.8" x2="434.4" y2="11.5"/>
<line x1="424.2" y1="23.3" x2="424.2" y2="31.2"/>
<polyline points="427.6,37.3 434.4,40.3 434.4,50.5"/>
<line x1="434" y1="39.3" x2="440.6" y2="35.6"/><line x1="435" y1="41" x2="441.6" y2="37.3"/>
</g>
<line x1="260.7" y1="27" x2="307" y2="27" stroke="#555" stroke-width="0.9"/>
<polygon points="305.5,24.6 313,27 305.5,29.4" fill="#111"/>
<g font-size="8.2" fill="#555" text-anchor="middle">
<text x="68.3" y="25.1">O</text>
<text x="78.8" y="41.6">O</text>
<text x="158.6" y="18.8">O</text>
<text x="282.4" y="8.0">O</text>
<text x="334.2" y="21.0">O</text>
<text x="344.8" y="38.2">O</text>
<text x="424.3" y="38.0">O</text>
<text x="444.4" y="38.0">O</text>
<text x="295.1" y="24.2">OH</text>
<text x="437.3" y="9.6">OH</text>
</g>
<g font-size="7.7" font-weight="bold" transform="translate(0.2,0.2)">
<text x="52.5" y="29.0" font-size="8.8" fill="#1fba6e">a</text>
<text x="86.5" y="18.4" fill="#1fba6e">b</text>
<text x="169.3" y="19.7" fill="#e0262c">d</text>
<text x="156.7" y="35" fill="#e0262c">d</text>
<text x="248.2" y="19.4" font-size="8.4" fill="#1fba6e">e</text>
<text x="318.4" y="28.9" font-size="8.8" fill="#1fba6e">a</text>
<text x="352.1" y="15.2" fill="#1fba6e">b</text>
<text x="421.7" y="19.6" fill="#2a5b8c">d&#8217;</text>
<text x="431.5" y="27.6" fill="#2a5b8c">d&#8221;</text>
<text x="432.9" y="58.2" fill="#2a5b8c">1</text>
<text x="515.1" y="16.6" font-size="8.4" fill="#1fba6e">e</text>
</g>
</svg>
</body></html>
